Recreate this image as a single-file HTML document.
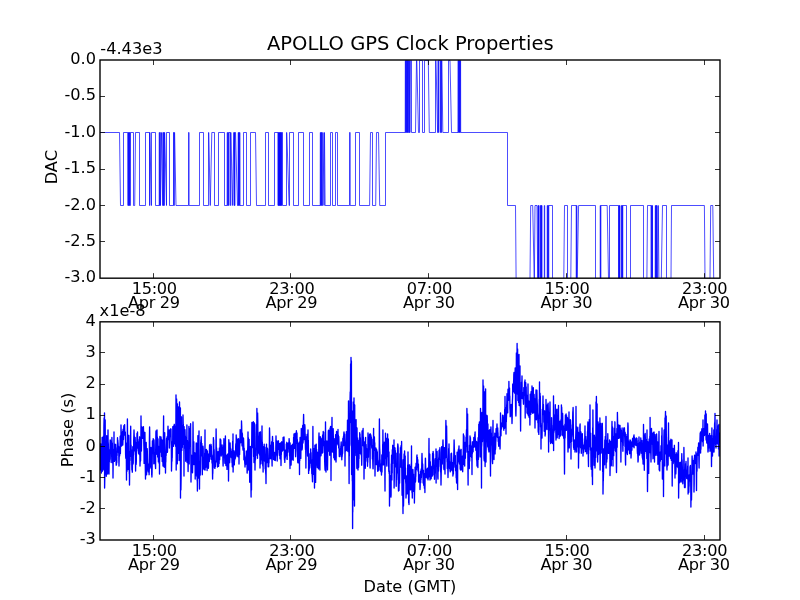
<!DOCTYPE html>
<html lang="en"><head><meta charset="utf-8"><title>APOLLO GPS Clock Properties</title>
<style>
html,body{margin:0;padding:0;background:#fff;width:800px;height:600px;overflow:hidden}
svg{display:block;will-change:transform}
text{font-family:"DejaVu Sans","Liberation Sans",sans-serif;fill:#000}
.t{font-size:16.20px}
.ti{font-size:19.55px}
.x1{letter-spacing:-0.3px}.x2{letter-spacing:-0.35px}
.ax{fill:none;stroke:#000;stroke-width:1.39;shape-rendering:auto}
.tk{stroke:#000;stroke-width:0.80;fill:none}
.l1{fill:none;stroke:#00f;stroke-width:0.7;stroke-linejoin:miter}
.l2{fill:none;stroke:#00f;stroke-width:1.35;stroke-linejoin:round}
</style></head><body>
<svg width="800" height="600" viewBox="0 0 800 600">
<rect x="0" y="0" width="800" height="600" fill="#fff"/>
<defs><clipPath id="c1"><rect x="100.00" y="60.00" width="620.00" height="218.18"/></clipPath>
<clipPath id="c2"><rect x="100.00" y="321.82" width="620.00" height="218.18"/></clipPath></defs>
<g clip-path="url(#c1)"><path class="l1" d="M100.0 132.5L119.5 132.5L120.5 205.5L123.5 205.5L123.5 132.5L127.8 132.5L127.9 205.5L128.2 205.5L128.2 132.5L128.5 132.5L128.6 205.5L128.9 205.5L128.9 132.5L129.3 132.5L129.3 205.5L129.6 205.5L129.7 132.5L130.0 132.5L130.0 205.5L130.3 205.5L130.4 132.5L133.5 132.5L133.5 205.5L134.7 205.5L135.5 132.5L139.5 132.5L139.5 205.5L145.5 205.5L145.5 132.5L149.5 132.5L149.5 205.5L149.8 205.5L149.8 132.5L149.9 132.5L151.3 205.5L151.5 205.5L151.5 132.5L155.5 132.5L155.5 205.5L159.2 205.5L159.2 132.5L159.6 132.5L159.6 205.5L160.0 205.5L160.0 132.5L160.3 132.5L160.3 205.5L160.5 205.5L161.5 132.5L161.6 132.5L162.7 205.5L162.9 205.5L162.9 132.5L163.3 132.5L163.3 205.5L163.7 205.5L163.7 132.5L164.1 132.5L164.1 205.5L164.3 205.5L164.5 132.5L164.7 132.5L166.5 205.5L166.5 205.5L166.5 132.5L169.5 132.5L169.5 205.5L173.5 205.5L173.5 132.5L174.0 132.5L174.0 205.5L174.3 205.5L174.3 132.5L174.6 132.5L176.0 205.5L188.5 205.5L188.5 132.5L189.1 132.5L189.1 205.5L199.5 205.5L199.5 132.5L203.5 132.5L203.5 205.5L208.5 205.5L208.5 132.5L208.8 132.5L210.2 205.5L210.3 205.5L211.8 132.5L214.5 132.5L214.5 205.5L218.5 205.5L218.5 132.5L224.5 132.5L224.5 205.5L227.1 205.5L227.2 132.5L227.6 132.5L227.6 205.5L228.0 205.5L228.1 132.5L228.4 132.5L228.5 205.5L228.9 205.5L228.9 132.5L230.2 132.5L230.2 205.5L230.6 205.5L230.6 132.5L231.0 132.5L232.3 205.5L232.4 205.5L233.8 132.5L234.0 132.5L234.0 205.5L234.3 205.5L234.3 132.5L234.6 132.5L234.6 205.5L234.9 205.5L234.9 132.5L235.5 132.5L237.5 205.5L238.1 205.5L238.2 132.5L238.5 132.5L238.5 205.5L238.8 205.5L238.9 132.5L239.2 132.5L239.3 205.5L239.6 205.5L239.6 132.5L239.9 132.5L240.0 205.5L243.5 205.5L243.5 132.5L246.5 132.5L246.5 205.5L250.5 205.5L250.5 132.5L255.5 132.5L256.5 205.5L265.5 205.5L265.5 132.5L268.5 132.5L268.5 205.5L274.5 205.5L274.5 132.5L278.0 132.5L278.0 205.5L278.3 205.5L278.3 132.5L278.6 132.5L278.6 205.5L278.9 205.5L278.9 132.5L279.1 132.5L279.2 205.5L279.4 205.5L279.5 132.5L279.7 132.5L279.8 205.5L280.0 205.5L280.0 132.5L280.3 132.5L280.3 205.5L280.6 205.5L280.6 132.5L280.9 132.5L280.9 205.5L281.1 205.5L281.2 132.5L281.4 132.5L281.5 205.5L281.7 205.5L281.8 132.5L282.5 132.5L282.5 205.5L286.5 205.5L286.5 132.5L286.8 132.5L289.1 205.5L289.5 205.5L289.5 132.5L293.5 132.5L293.5 205.5L298.5 205.5L298.5 132.5L303.5 132.5L303.5 205.5L309.5 205.5L309.5 132.5L312.5 132.5L312.5 205.5L320.2 205.5L320.3 132.5L320.6 132.5L320.6 205.5L320.9 205.5L321.0 132.5L321.3 132.5L321.4 205.5L321.7 205.5L321.7 132.5L322.0 132.5L322.1 205.5L322.6 205.5L322.9 132.5L323.0 132.5L324.0 205.5L324.1 205.5L324.4 132.5L324.5 132.5L325.1 205.5L330.5 205.5L330.5 132.5L332.5 132.5L332.5 205.5L335.5 205.5L335.5 132.5L337.5 132.5L337.5 205.5L349.5 205.5L349.5 132.5L350.2 132.5L350.2 205.5L355.5 205.5L355.5 132.5L359.5 132.5L359.5 205.5L369.6 205.5L370.5 132.5L372.5 132.5L372.5 205.5L375.7 205.5L376.5 132.5L378.5 132.5L379.7 205.5L385.5 205.5L385.5 132.5L405.2 132.5L405.3 60.5L405.6 60.5L405.6 132.5L406.0 132.5L406.0 60.5L406.3 60.5L406.4 132.5L406.7 132.5L406.8 60.5L407.1 60.5L407.2 132.5L407.5 132.5L407.5 60.5L407.9 60.5L407.9 132.5L408.2 132.5L408.3 60.5L408.6 60.5L408.7 132.5L409.5 132.5L409.5 60.5L409.3 60.5L409.8 132.5L410.0 132.5L410.5 60.5L411.5 60.5L411.5 132.5L415.5 132.5L416.5 60.5L416.8 60.5L418.5 132.5L419.5 132.5L419.5 60.5L422.5 60.5L422.5 132.5L424.5 132.5L424.5 60.5L428.3 60.5L429.3 132.5L435.5 132.5L435.5 60.5L436.0 60.5L437.6 132.5L438.0 132.5L438.0 60.5L438.4 60.5L438.4 132.5L438.8 132.5L438.8 60.5L440.3 60.5L440.3 132.5L440.7 132.5L440.7 60.5L441.1 60.5L441.1 132.5L441.5 132.5L441.5 60.5L441.9 60.5L442.8 132.5L448.5 132.5L448.5 60.5L450.0 60.5L451.5 132.5L458.0 132.5L458.1 60.5L458.4 60.5L458.4 132.5L458.8 132.5L458.8 60.5L459.1 60.5L459.2 132.5L459.5 132.5L459.6 60.5L459.9 60.5L459.9 132.5L460.2 132.5L460.3 60.5L460.6 60.5L460.7 132.5L507.5 132.5L507.5 205.5L515.5 205.5L516.1 278.5L530.0 278.5L530.7 205.5L532.7 205.5L534.2 278.5L534.4 278.5L535.0 205.5L537.0 205.5L537.7 278.5L538.0 278.5L538.0 205.5L538.4 205.5L538.4 278.5L538.7 278.5L538.7 205.5L538.9 205.5L538.9 278.5L540.2 278.5L540.2 205.5L540.6 205.5L540.6 278.5L541.0 278.5L541.0 205.5L541.4 205.5L541.4 278.5L541.7 278.5L541.7 205.5L541.9 205.5L541.9 278.5L544.3 278.5L544.3 205.5L544.7 205.5L544.7 278.5L547.2 278.5L547.2 205.5L547.6 205.5L547.6 278.5L548.0 278.5L548.0 205.5L548.4 205.5L548.4 278.5L548.8 278.5L548.8 205.5L552.5 205.5L552.5 278.5L563.8 278.5L564.5 205.5L567.5 205.5L567.5 278.5L570.8 278.5L571.5 205.5L576.2 205.5L576.2 278.5L576.6 278.5L576.6 205.5L576.9 205.5L576.9 278.5L577.2 278.5L578.6 205.5L595.5 205.5L595.5 278.5L600.2 278.5L600.2 205.5L600.5 205.5L600.5 278.5L600.9 278.5L600.9 205.5L607.2 205.5L608.5 278.5L609.5 278.5L609.5 205.5L618.5 205.5L618.5 278.5L618.9 278.5L618.9 205.5L619.3 205.5L619.3 278.5L619.6 278.5L619.6 205.5L619.8 205.5L619.8 278.5L621.3 278.5L621.3 205.5L621.7 205.5L621.7 278.5L622.1 278.5L622.1 205.5L622.5 205.5L622.5 278.5L622.8 278.5L622.8 205.5L626.5 205.5L626.5 278.5L630.5 278.5L630.5 205.5L643.5 205.5L643.5 278.5L646.9 278.5L647.5 205.5L651.0 205.5L651.1 278.5L651.4 278.5L651.5 205.5L651.8 205.5L651.9 278.5L652.3 278.5L652.3 205.5L652.5 205.5L652.5 278.5L655.2 278.5L655.3 205.5L655.6 205.5L655.6 278.5L655.9 278.5L656.0 205.5L656.3 205.5L656.4 278.5L656.7 278.5L656.7 205.5L657.0 205.5L657.1 278.5L657.6 278.5L658.2 205.5L658.3 205.5L658.9 278.5L661.3 278.5L662.5 205.5L666.5 205.5L666.5 278.5L671.0 278.5L671.5 205.5L704.4 205.5L705.0 278.5L710.0 278.5L710.7 205.5L712.8 205.5L713.7 278.5L720.0 278.5"/></g>
<g clip-path="url(#c2)"><path class="l2" d="M100.0 446.0L100.1 470.0L100.3 455.5L100.4 455.2L100.6 446.3L100.7 446.7L100.8 443.8L101.0 453.3L101.1 469.1L101.3 467.0L101.4 473.0L101.5 469.8L101.7 467.3L101.8 455.4L102.0 453.1L102.1 437.5L102.2 451.5L102.4 471.2L102.5 462.8L102.7 456.9L102.8 441.2L102.9 452.4L103.1 469.6L103.2 469.9L103.4 436.1L103.5 443.3L103.6 436.4L103.8 449.3L103.9 426.2L104.1 418.0L104.2 432.5L104.3 451.5L104.5 413.0L104.6 488.0L104.8 477.6L104.9 463.0L105.0 434.0L105.2 420.0L105.3 444.3L105.5 466.8L105.6 473.3L105.7 468.3L105.9 472.2L106.0 474.1L106.2 468.5L106.3 476.3L106.4 457.1L106.6 445.0L106.7 435.6L106.9 443.2L107.0 460.3L107.1 458.2L107.3 461.1L107.4 458.6L107.6 474.0L107.7 461.3L107.8 468.2L108.0 430.0L108.1 441.5L108.3 443.8L108.4 449.4L108.5 450.8L108.7 449.6L108.8 462.2L109.0 474.0L109.1 463.9L109.2 461.5L109.4 461.8L109.5 459.7L109.7 459.3L109.8 451.2L109.9 452.5L110.1 443.3L110.2 440.0L110.4 453.2L110.5 442.5L110.6 447.8L110.8 452.1L110.9 441.1L111.1 448.8L111.2 462.5L111.3 450.3L111.5 448.6L111.6 448.3L111.8 446.3L111.9 437.5L112.0 442.8L112.2 442.9L112.3 442.9L112.5 456.0L112.6 453.9L112.7 463.2L112.9 461.0L113.0 478.0L113.2 459.2L113.3 453.9L113.4 461.3L113.6 457.2L113.7 449.1L113.9 457.1L114.0 432.0L114.1 451.9L114.3 453.5L114.4 461.4L114.6 454.9L114.7 460.4L114.8 459.5L115.0 450.1L115.1 444.2L115.3 447.6L115.4 444.5L115.5 447.2L115.7 448.0L115.8 452.3L116.0 456.5L116.1 461.8L116.2 465.3L116.4 460.4L116.5 464.6L116.7 459.1L116.8 462.4L116.9 455.6L117.1 455.6L117.2 444.2L117.4 449.8L117.5 437.7L117.6 440.5L117.8 440.1L117.9 441.8L118.1 443.7L118.2 451.3L118.3 452.3L118.5 446.1L118.6 448.1L118.8 454.2L118.9 462.3L119.0 466.0L119.2 456.4L119.3 454.3L119.5 451.8L119.6 455.9L119.7 454.8L119.9 446.6L120.0 449.4L120.2 436.2L120.3 441.3L120.4 453.5L120.6 441.0L120.7 442.7L120.9 442.5L121.0 425.0L121.1 429.8L121.3 433.5L121.4 443.2L121.6 446.1L121.7 437.9L121.8 432.2L122.0 439.5L122.1 443.8L122.3 439.7L122.4 445.0L122.5 436.1L122.7 431.2L122.8 445.1L123.0 438.9L123.1 429.3L123.2 432.0L123.4 437.6L123.5 439.5L123.7 430.5L123.8 426.6L123.9 425.6L124.1 432.6L124.2 433.0L124.4 430.9L124.5 432.3L124.6 424.6L124.8 433.4L124.9 435.3L125.1 432.5L125.2 432.0L125.3 432.1L125.5 440.1L125.6 454.3L125.8 458.2L125.9 445.1L126.0 442.9L126.2 456.7L126.3 451.7L126.5 480.0L126.6 457.6L126.7 465.6L126.9 471.5L127.0 468.2L127.2 450.4L127.3 440.1L127.4 419.0L127.6 445.0L127.7 453.1L127.9 462.0L128.0 469.6L128.1 461.4L128.3 443.2L128.4 445.9L128.6 451.9L128.7 439.8L128.8 435.3L129.0 454.9L129.1 461.5L129.3 473.8L129.4 470.5L129.5 485.0L129.7 465.1L129.8 465.1L130.0 453.0L130.1 460.6L130.2 451.3L130.4 456.5L130.5 439.3L130.7 426.2L130.8 443.7L130.9 448.9L131.1 445.2L131.2 452.4L131.4 453.9L131.5 449.8L131.6 449.8L131.8 464.8L131.9 469.9L132.1 466.7L132.2 467.7L132.3 472.2L132.5 461.4L132.6 461.2L132.8 446.8L132.9 451.8L133.0 460.5L133.2 463.9L133.3 455.7L133.5 454.3L133.6 451.4L133.7 439.8L133.9 433.9L134.0 430.0L134.2 435.0L134.3 441.7L134.4 450.8L134.6 444.9L134.7 448.6L134.9 449.3L135.0 447.9L135.1 437.3L135.3 441.6L135.4 455.2L135.6 471.0L135.7 458.5L135.8 448.2L136.0 442.9L136.1 464.4L136.3 461.9L136.4 453.5L136.5 443.8L136.7 451.0L136.8 445.9L137.0 433.4L137.1 446.4L137.2 438.3L137.4 434.9L137.5 432.0L137.7 443.9L137.8 448.0L137.9 439.4L138.1 446.3L138.2 441.8L138.4 445.5L138.5 453.2L138.6 451.7L138.8 448.9L138.9 449.6L139.1 449.9L139.2 454.5L139.3 442.3L139.5 441.0L139.6 436.8L139.8 448.5L139.9 456.1L140.0 466.0L140.2 459.9L140.3 461.7L140.5 459.2L140.6 460.8L140.7 448.9L140.9 442.9L141.0 416.0L141.2 443.1L141.3 435.0L141.4 451.0L141.6 439.2L141.7 437.0L141.9 426.9L142.0 429.8L142.1 435.3L142.3 431.9L142.4 438.4L142.6 431.2L142.7 428.2L142.8 437.2L143.0 436.3L143.1 435.6L143.3 430.4L143.4 426.6L143.5 429.6L143.7 434.3L143.8 443.8L144.0 450.2L144.1 463.4L144.2 456.6L144.4 459.7L144.5 458.7L144.7 440.9L144.8 435.2L144.9 432.3L145.1 444.1L145.2 460.6L145.4 473.1L145.5 479.0L145.6 471.2L145.8 457.2L145.9 452.6L146.1 442.9L146.2 442.4L146.3 449.6L146.5 465.9L146.6 474.8L146.8 458.4L146.9 449.4L147.0 449.8L147.2 448.7L147.3 451.0L147.5 459.0L147.6 462.3L147.7 465.5L147.9 466.6L148.0 470.2L148.2 471.2L148.3 471.9L148.4 471.5L148.6 468.2L148.7 463.9L148.9 466.7L149.0 470.2L149.1 474.7L149.3 469.7L149.4 440.4L149.6 427.0L149.7 431.9L149.8 446.9L150.0 464.0L150.1 468.0L150.3 448.1L150.4 456.9L150.5 466.1L150.7 461.5L150.8 451.7L151.0 447.4L151.1 455.7L151.2 456.7L151.4 456.2L151.5 462.8L151.7 475.0L151.8 471.4L151.9 477.0L152.1 472.1L152.2 461.0L152.4 440.9L152.5 441.7L152.6 448.6L152.8 453.7L152.9 453.5L153.1 449.9L153.2 438.6L153.3 444.9L153.5 449.5L153.6 441.6L153.8 463.8L153.9 447.9L154.0 439.9L154.2 444.8L154.3 453.4L154.5 461.4L154.6 463.0L154.7 454.7L154.9 456.5L155.0 453.1L155.2 459.0L155.3 464.2L155.4 465.3L155.6 468.5L155.7 449.4L155.9 433.0L156.0 431.0L156.1 441.8L156.3 437.7L156.4 454.3L156.6 446.3L156.7 434.3L156.8 439.8L157.0 429.9L157.1 436.8L157.3 437.0L157.4 438.5L157.5 446.8L157.7 457.0L157.8 438.7L158.0 438.9L158.1 449.3L158.2 450.0L158.4 461.9L158.5 446.2L158.7 452.7L158.8 455.8L158.9 455.9L159.1 451.4L159.2 463.8L159.4 451.9L159.5 474.0L159.6 461.2L159.8 442.8L159.9 436.4L160.1 439.5L160.2 444.2L160.3 442.3L160.5 452.0L160.6 451.4L160.8 439.9L160.9 443.4L161.0 437.0L161.2 439.3L161.3 443.3L161.5 456.6L161.6 449.7L161.7 439.9L161.9 448.3L162.0 439.8L162.2 461.6L162.3 454.9L162.4 449.5L162.6 455.7L162.7 453.5L162.9 460.1L163.0 466.0L163.1 443.2L163.3 448.4L163.4 435.5L163.6 416.0L163.7 444.5L163.8 452.6L164.0 452.7L164.1 466.8L164.3 467.2L164.4 458.7L164.5 439.5L164.7 432.7L164.8 442.4L165.0 449.0L165.1 457.3L165.2 453.7L165.4 461.1L165.5 473.0L165.7 457.7L165.8 461.9L165.9 455.8L166.1 455.6L166.2 453.5L166.4 451.1L166.5 439.6L166.6 438.2L166.8 438.6L166.9 444.3L167.1 436.8L167.2 452.3L167.3 452.3L167.5 451.3L167.6 446.0L167.8 433.0L167.9 429.7L168.0 426.2L168.2 439.7L168.3 434.6L168.5 435.6L168.6 435.7L168.7 436.5L168.9 437.2L169.0 434.5L169.2 430.0L169.3 431.8L169.4 448.0L169.6 437.1L169.7 432.4L169.9 432.8L170.0 430.0L170.1 436.3L170.3 436.5L170.4 433.7L170.6 428.9L170.7 434.8L170.8 428.9L171.0 429.1L171.1 439.2L171.3 445.9L171.4 455.3L171.5 471.0L171.7 462.5L171.8 447.5L172.0 461.3L172.1 455.3L172.2 457.8L172.4 441.7L172.5 446.1L172.7 442.7L172.8 426.6L172.9 429.3L173.1 431.4L173.2 427.3L173.4 443.4L173.5 446.3L173.6 431.3L173.8 425.7L173.9 425.9L174.1 429.5L174.2 432.5L174.3 424.3L174.5 435.5L174.6 443.9L174.8 430.9L174.9 426.2L175.0 443.8L175.2 438.5L175.3 431.2L175.5 435.2L175.6 446.3L175.7 428.4L175.9 423.5L176.0 395.0L176.2 470.0L176.3 441.2L176.4 450.8L176.6 399.0L176.7 411.4L176.9 452.5L177.0 450.8L177.1 434.7L177.3 463.8L177.4 404.0L177.6 433.0L177.7 429.9L177.8 430.9L178.0 438.5L178.1 418.3L178.3 453.4L178.4 417.4L178.5 407.0L178.7 433.5L178.8 443.6L179.0 438.7L179.1 460.6L179.2 432.8L179.4 424.2L179.5 402.0L179.7 416.3L179.8 410.1L179.9 415.8L180.1 417.0L180.2 428.4L180.4 408.0L180.5 498.0L180.6 464.2L180.8 472.6L180.9 490.0L181.1 478.1L181.2 455.5L181.3 428.5L181.5 416.8L181.6 440.6L181.8 450.6L181.9 447.8L182.0 446.8L182.2 444.7L182.3 447.6L182.5 425.4L182.6 436.3L182.7 441.5L182.9 444.4L183.0 415.0L183.2 424.2L183.3 425.0L183.4 437.5L183.6 426.9L183.7 439.1L183.9 436.1L184.0 476.0L184.1 426.6L184.3 438.9L184.4 443.6L184.6 444.9L184.7 448.2L184.8 439.4L185.0 429.7L185.1 434.1L185.3 441.7L185.4 436.2L185.5 443.1L185.7 461.2L185.8 448.9L186.0 446.4L186.1 438.8L186.2 437.9L186.4 447.1L186.5 451.6L186.7 455.0L186.8 446.3L186.9 425.0L187.1 462.6L187.2 452.7L187.4 440.5L187.5 443.7L187.6 446.0L187.8 446.7L187.9 457.8L188.1 471.6L188.2 465.5L188.3 454.5L188.5 443.0L188.6 443.3L188.8 445.3L188.9 426.5L189.0 445.0L189.2 463.9L189.3 448.5L189.5 443.9L189.6 429.0L189.7 435.4L189.9 432.8L190.0 442.5L190.2 437.3L190.3 432.8L190.4 434.6L190.6 423.7L190.7 440.1L190.9 463.4L191.0 482.0L191.1 472.9L191.3 457.7L191.4 457.4L191.6 457.9L191.7 462.5L191.8 455.3L192.0 465.7L192.1 466.0L192.3 468.9L192.4 470.0L192.5 472.8L192.7 465.5L192.8 460.7L193.0 422.0L193.1 428.6L193.2 443.2L193.4 455.5L193.5 464.5L193.7 446.1L193.8 441.7L193.9 458.1L194.1 456.1L194.2 457.8L194.4 454.2L194.5 462.7L194.6 464.6L194.8 461.7L194.9 452.8L195.1 464.8L195.2 479.0L195.3 471.4L195.5 461.3L195.6 471.9L195.8 475.1L195.9 466.0L196.0 468.8L196.2 442.9L196.3 446.8L196.5 443.1L196.6 460.1L196.7 457.8L196.9 476.8L197.0 465.3L197.2 481.0L197.3 478.3L197.4 491.0L197.6 463.6L197.7 456.7L197.9 435.6L198.0 452.0L198.1 457.5L198.3 474.1L198.4 464.4L198.6 478.1L198.7 460.4L198.8 448.3L199.0 431.0L199.1 465.9L199.3 467.0L199.4 479.9L199.5 489.0L199.7 461.1L199.8 471.9L200.0 465.3L200.1 467.6L200.2 475.1L200.4 469.8L200.5 458.0L200.7 442.2L200.8 443.8L200.9 439.9L201.1 441.1L201.2 436.6L201.4 445.3L201.5 443.9L201.6 455.7L201.8 443.3L201.9 447.4L202.1 451.5L202.2 464.1L202.3 474.7L202.5 462.5L202.6 450.3L202.8 454.1L202.9 453.5L203.0 446.2L203.2 448.6L203.3 460.0L203.5 468.8L203.6 461.7L203.7 465.8L203.9 468.4L204.0 458.2L204.2 466.3L204.3 469.7L204.4 458.5L204.6 459.4L204.7 453.1L204.9 456.3L205.0 430.0L205.1 470.0L205.3 458.8L205.4 463.6L205.6 458.8L205.7 459.7L205.8 467.3L206.0 464.8L206.1 463.9L206.3 450.6L206.4 449.4L206.5 450.4L206.7 453.4L206.8 458.1L207.0 464.0L207.1 470.6L207.2 463.0L207.4 450.9L207.5 458.2L207.7 467.1L207.8 464.1L207.9 460.4L208.1 453.8L208.2 463.0L208.4 468.3L208.5 466.5L208.6 461.1L208.8 458.6L208.9 456.9L209.1 459.9L209.2 457.4L209.3 461.5L209.5 448.1L209.6 444.8L209.8 457.6L209.9 456.4L210.0 459.2L210.2 452.8L210.3 455.0L210.5 456.4L210.6 447.6L210.7 448.7L210.9 448.3L211.0 444.3L211.2 448.2L211.3 445.9L211.4 454.2L211.6 455.7L211.7 459.7L211.9 459.4L212.0 462.3L212.1 463.1L212.3 456.4L212.4 465.7L212.6 479.0L212.7 471.5L212.8 473.6L213.0 459.1L213.1 455.9L213.3 449.3L213.4 437.6L213.5 441.7L213.7 440.0L213.8 447.9L214.0 456.2L214.1 449.5L214.2 451.2L214.4 467.7L214.5 465.3L214.7 461.5L214.8 461.7L214.9 468.4L215.1 465.8L215.2 465.4L215.4 466.4L215.5 462.2L215.6 461.0L215.8 462.0L215.9 455.9L216.1 429.0L216.2 436.4L216.3 448.0L216.5 451.8L216.6 448.0L216.8 455.1L216.9 458.9L217.0 451.5L217.2 463.1L217.3 462.8L217.5 467.0L217.6 457.2L217.7 461.2L217.9 457.2L218.0 462.6L218.2 451.6L218.3 458.3L218.4 463.1L218.6 466.3L218.7 455.2L218.9 460.5L219.0 459.0L219.1 463.6L219.3 450.6L219.4 448.0L219.6 456.1L219.7 459.7L219.8 455.7L220.0 445.9L220.1 438.9L220.3 442.8L220.4 443.8L220.5 439.1L220.7 443.6L220.8 439.9L221.0 453.5L221.1 448.6L221.2 456.1L221.4 450.3L221.5 455.3L221.7 451.0L221.8 452.1L221.9 453.3L222.1 445.0L222.2 450.6L222.4 450.2L222.5 452.6L222.6 447.3L222.8 448.8L222.9 459.4L223.1 466.0L223.2 463.1L223.3 457.7L223.5 450.2L223.6 445.8L223.8 445.9L223.9 438.7L224.0 452.5L224.2 454.7L224.3 449.6L224.5 450.7L224.6 453.0L224.7 458.2L224.9 463.3L225.0 460.1L225.2 448.7L225.3 443.0L225.4 436.0L225.6 457.0L225.7 458.3L225.9 465.6L226.0 463.1L226.1 462.1L226.3 456.0L226.4 464.3L226.6 463.3L226.7 457.7L226.8 455.3L227.0 469.4L227.1 465.5L227.3 459.6L227.4 454.4L227.5 459.5L227.7 456.9L227.8 454.3L228.0 455.1L228.1 453.8L228.2 465.2L228.4 462.0L228.5 481.0L228.7 464.5L228.8 439.7L228.9 441.3L229.1 458.9L229.2 452.2L229.4 449.3L229.5 462.2L229.6 462.7L229.8 459.2L229.9 455.9L230.1 442.9L230.2 446.8L230.3 448.4L230.5 455.6L230.6 452.8L230.8 448.8L230.9 457.1L231.0 456.0L231.2 451.9L231.3 454.9L231.5 451.7L231.6 451.4L231.7 457.9L231.9 454.7L232.0 462.6L232.2 463.1L232.3 466.8L232.4 456.6L232.6 442.7L232.7 441.2L232.9 461.2L233.0 434.0L233.1 472.0L233.3 462.6L233.4 461.8L233.6 455.9L233.7 460.2L233.8 462.8L234.0 464.1L234.1 450.8L234.3 464.9L234.4 460.6L234.5 461.2L234.7 452.2L234.8 456.9L235.0 456.3L235.1 454.3L235.2 458.8L235.4 457.1L235.5 457.6L235.7 446.3L235.8 443.8L235.9 447.2L236.1 446.0L236.2 434.9L236.4 448.4L236.5 438.3L236.6 438.0L236.8 446.9L236.9 454.1L237.1 456.1L237.2 445.1L237.3 444.8L237.5 439.5L237.6 453.9L237.8 453.5L237.9 442.9L238.0 453.4L238.2 456.9L238.3 447.7L238.5 438.6L238.6 449.6L238.7 446.0L238.9 442.8L239.0 464.0L239.2 448.9L239.3 448.2L239.4 441.4L239.6 454.5L239.7 446.2L239.9 439.8L240.0 438.9L240.1 429.7L240.3 431.0L240.4 442.1L240.6 441.3L240.7 442.7L240.8 442.0L241.0 435.9L241.1 433.1L241.3 433.5L241.4 433.9L241.5 421.0L241.7 426.1L241.8 434.4L242.0 444.9L242.1 445.9L242.2 432.9L242.4 434.3L242.5 440.1L242.7 443.8L242.8 444.0L242.9 449.0L243.1 450.1L243.2 439.9L243.4 438.2L243.5 438.0L243.6 440.4L243.8 446.4L243.9 459.6L244.1 460.0L244.2 448.2L244.3 453.3L244.5 458.1L244.6 459.1L244.8 464.0L244.9 463.9L245.0 467.0L245.2 462.1L245.3 462.6L245.5 464.7L245.6 462.5L245.7 457.8L245.9 457.9L246.0 455.9L246.2 455.2L246.3 451.0L246.4 454.8L246.6 461.1L246.7 464.2L246.9 463.1L247.0 458.5L247.1 473.1L247.3 470.7L247.4 461.2L247.6 463.1L247.7 449.5L247.8 446.4L248.0 432.0L248.1 447.7L248.3 437.6L248.4 439.8L248.5 466.5L248.7 470.0L248.8 459.8L249.0 459.9L249.1 439.3L249.2 451.6L249.4 456.2L249.5 464.6L249.7 482.2L249.8 467.1L249.9 452.5L250.1 460.3L250.2 468.7L250.4 446.4L250.5 454.2L250.6 448.3L250.8 454.6L250.9 483.2L251.1 497.0L251.2 470.7L251.3 484.9L251.5 490.0L251.6 455.5L251.8 432.7L251.9 422.4L252.0 423.0L252.2 431.7L252.3 432.1L252.5 447.6L252.6 442.5L252.7 437.4L252.9 445.7L253.0 422.3L253.2 426.6L253.3 421.6L253.4 439.1L253.6 456.6L253.7 450.8L253.9 451.4L254.0 462.6L254.1 441.7L254.3 433.1L254.4 423.0L254.6 425.3L254.7 451.0L254.8 453.2L255.0 470.0L255.1 463.5L255.3 451.1L255.4 459.9L255.5 459.0L255.7 449.2L255.8 448.1L256.0 455.5L256.1 448.0L256.2 435.0L256.4 424.5L256.5 435.7L256.7 424.8L256.8 426.8L256.9 408.5L257.1 433.0L257.2 449.0L257.4 441.0L257.5 458.2L257.6 413.0L257.8 421.1L257.9 432.4L258.1 433.7L258.2 440.6L258.3 449.2L258.5 442.5L258.6 453.1L258.8 436.3L258.9 437.8L259.0 437.0L259.2 444.9L259.3 446.8L259.5 454.9L259.6 432.5L259.7 445.4L259.9 444.8L260.0 468.0L260.2 451.8L260.3 449.2L260.4 431.8L260.6 447.6L260.7 445.1L260.9 458.9L261.0 463.8L261.1 451.4L261.3 458.3L261.4 456.9L261.6 459.9L261.7 442.4L261.8 447.1L262.0 426.0L262.1 441.7L262.3 441.9L262.4 448.0L262.5 457.0L262.7 463.7L262.8 465.9L263.0 458.6L263.1 472.0L263.2 460.4L263.4 451.8L263.5 449.1L263.7 446.5L263.8 450.4L263.9 448.1L264.1 447.1L264.2 444.1L264.4 455.5L264.5 459.6L264.6 461.1L264.8 447.1L264.9 449.8L265.1 460.9L265.2 468.8L265.3 458.4L265.5 470.0L265.6 470.7L265.8 474.0L265.9 474.8L266.0 483.5L266.2 461.6L266.3 456.6L266.5 444.1L266.6 453.7L266.7 462.8L266.9 448.5L267.0 460.6L267.2 448.3L267.3 456.3L267.4 448.1L267.6 454.7L267.7 460.6L267.9 459.5L268.0 458.5L268.1 466.8L268.3 460.6L268.4 459.8L268.6 460.6L268.7 466.7L268.8 461.7L269.0 463.1L269.1 449.0L269.3 448.4L269.4 440.4L269.5 428.0L269.7 433.4L269.8 444.3L270.0 447.5L270.1 458.5L270.2 455.5L270.4 446.9L270.5 451.0L270.7 445.7L270.8 457.8L270.9 455.3L271.1 458.7L271.2 445.0L271.4 450.6L271.5 450.5L271.6 441.9L271.8 459.0L271.9 457.7L272.1 466.0L272.2 456.6L272.3 442.9L272.5 436.4L272.6 438.4L272.8 446.1L272.9 449.5L273.0 442.8L273.2 450.0L273.3 442.4L273.5 448.0L273.6 459.6L273.7 454.0L273.9 455.8L274.0 452.0L274.2 458.2L274.3 457.5L274.4 452.5L274.6 452.7L274.7 460.2L274.9 459.0L275.0 452.6L275.1 459.9L275.3 460.5L275.4 456.6L275.6 455.0L275.7 454.7L275.8 448.6L276.0 436.0L276.1 441.5L276.3 449.3L276.4 451.0L276.5 442.8L276.7 441.0L276.8 447.3L277.0 455.6L277.1 457.2L277.2 461.1L277.4 451.1L277.5 453.3L277.7 443.3L277.8 449.5L277.9 443.8L278.1 441.2L278.2 440.8L278.4 440.9L278.5 441.8L278.6 443.2L278.8 445.9L278.9 445.1L279.1 450.1L279.2 449.8L279.3 455.2L279.5 448.8L279.6 451.8L279.8 447.1L279.9 443.4L280.0 458.8L280.2 446.9L280.3 443.4L280.5 442.9L280.6 452.0L280.7 450.3L280.9 451.2L281.0 465.5L281.2 450.8L281.3 454.7L281.4 452.0L281.6 446.0L281.7 441.8L281.9 445.8L282.0 444.2L282.1 445.8L282.3 449.4L282.4 451.1L282.6 444.2L282.7 441.6L282.8 441.9L283.0 442.2L283.1 437.5L283.3 442.9L283.4 448.9L283.5 450.1L283.7 446.7L283.8 442.0L284.0 437.0L284.1 440.1L284.2 445.1L284.4 458.0L284.5 459.9L284.7 456.4L284.8 462.4L284.9 459.1L285.1 458.0L285.2 458.2L285.4 455.6L285.5 450.1L285.6 453.3L285.8 452.4L285.9 455.9L286.1 452.5L286.2 455.3L286.3 443.9L286.5 450.6L286.6 445.6L286.8 442.3L286.9 447.6L287.0 459.3L287.2 459.4L287.3 450.4L287.5 444.6L287.6 449.3L287.7 451.3L287.9 452.0L288.0 445.5L288.2 443.1L288.3 444.7L288.4 447.3L288.6 448.6L288.7 446.7L288.9 442.2L289.0 443.4L289.1 438.6L289.3 441.2L289.4 450.3L289.6 455.9L289.7 451.1L289.8 457.3L290.0 468.5L290.1 443.0L290.3 458.8L290.4 449.8L290.5 463.5L290.7 462.5L290.8 464.6L291.0 462.5L291.1 465.0L291.2 459.9L291.4 453.2L291.5 445.4L291.7 452.6L291.8 459.8L291.9 452.8L292.1 449.3L292.2 454.4L292.4 449.1L292.5 444.3L292.6 448.7L292.8 456.4L292.9 453.0L293.1 456.5L293.2 460.2L293.3 449.5L293.5 447.5L293.6 437.4L293.8 436.9L293.9 436.0L294.0 434.0L294.2 440.2L294.3 448.4L294.5 445.7L294.6 439.4L294.7 441.0L294.9 441.3L295.0 433.4L295.2 440.1L295.3 444.9L295.4 450.1L295.6 456.7L295.7 453.3L295.9 449.7L296.0 437.7L296.1 432.8L296.3 435.7L296.4 430.7L296.6 440.5L296.7 443.4L296.8 438.8L297.0 432.9L297.1 440.2L297.3 439.4L297.4 443.2L297.5 454.0L297.7 461.3L297.8 462.5L298.0 462.7L298.1 443.6L298.2 457.9L298.4 453.2L298.5 457.4L298.7 462.8L298.8 453.7L298.9 448.9L299.1 442.1L299.2 449.9L299.4 450.4L299.5 474.5L299.6 449.6L299.8 460.8L299.9 455.1L300.1 437.5L300.2 445.0L300.3 445.4L300.5 449.1L300.6 452.5L300.8 458.4L300.9 451.5L301.0 437.5L301.2 438.4L301.3 428.4L301.5 448.3L301.6 440.6L301.7 446.1L301.9 449.8L302.0 450.0L302.2 448.7L302.3 447.6L302.4 442.2L302.6 437.0L302.7 425.5L302.9 429.1L303.0 443.0L303.1 440.9L303.3 439.5L303.4 422.6L303.6 414.5L303.7 419.6L303.8 439.4L304.0 431.7L304.1 428.7L304.3 426.9L304.4 427.2L304.5 431.9L304.7 437.5L304.8 424.7L305.0 427.5L305.1 441.2L305.2 433.7L305.4 445.2L305.5 449.6L305.7 449.2L305.8 454.6L305.9 468.0L306.1 447.6L306.2 444.0L306.4 437.1L306.5 436.7L306.6 442.2L306.8 443.8L306.9 438.3L307.1 434.5L307.2 438.5L307.3 443.4L307.5 451.1L307.6 456.0L307.8 450.0L307.9 437.9L308.0 430.0L308.2 444.0L308.3 440.1L308.5 453.6L308.6 473.4L308.7 466.2L308.9 460.7L309.0 470.7L309.2 469.1L309.3 461.0L309.4 462.5L309.6 460.9L309.7 468.0L309.9 465.4L310.0 453.8L310.1 460.3L310.3 463.0L310.4 456.4L310.6 455.1L310.7 448.9L310.8 452.3L311.0 453.7L311.1 452.6L311.3 463.1L311.4 461.6L311.5 460.0L311.7 470.0L311.8 473.7L312.0 473.5L312.1 471.9L312.2 475.8L312.4 478.7L312.5 481.8L312.7 463.7L312.8 448.4L312.9 426.5L313.1 458.2L313.2 469.4L313.4 474.3L313.5 457.1L313.6 456.0L313.8 454.2L313.9 448.6L314.1 454.3L314.2 462.5L314.3 463.4L314.5 488.0L314.6 474.1L314.8 453.8L314.9 445.3L315.0 445.1L315.2 453.9L315.3 464.4L315.5 472.9L315.6 482.4L315.7 471.0L315.9 460.6L316.0 452.9L316.2 444.1L316.3 451.6L316.4 452.5L316.6 449.3L316.7 460.5L316.9 461.8L317.0 456.8L317.1 464.2L317.3 467.5L317.4 452.2L317.6 454.7L317.7 459.5L317.8 458.0L318.0 458.7L318.1 465.8L318.3 467.4L318.4 463.3L318.5 468.9L318.7 457.5L318.8 438.2L319.0 433.0L319.1 437.8L319.2 447.1L319.4 444.8L319.5 446.2L319.7 458.5L319.8 452.2L319.9 470.0L320.1 449.7L320.2 436.6L320.4 438.9L320.5 436.9L320.6 447.8L320.8 455.2L320.9 454.1L321.1 455.7L321.2 447.4L321.3 453.5L321.5 452.4L321.6 445.6L321.8 449.4L321.9 438.4L322.0 447.1L322.2 442.0L322.3 444.3L322.5 453.0L322.6 435.0L322.7 435.5L322.9 439.8L323.0 445.7L323.2 431.4L323.3 440.5L323.4 438.5L323.6 439.7L323.7 432.1L323.9 443.3L324.0 441.2L324.1 446.6L324.3 452.5L324.4 441.1L324.6 458.4L324.7 461.6L324.8 464.9L325.0 469.2L325.1 470.3L325.3 457.0L325.4 445.7L325.5 422.0L325.7 454.5L325.8 450.8L326.0 472.0L326.1 449.0L326.2 454.0L326.4 449.9L326.5 447.3L326.7 448.3L326.8 442.6L326.9 441.0L327.1 455.6L327.2 455.0L327.4 466.4L327.5 469.9L327.6 463.8L327.8 443.9L327.9 449.4L328.1 442.0L328.2 445.6L328.3 431.8L328.5 430.1L328.6 430.6L328.8 430.6L328.9 447.5L329.0 451.3L329.2 445.8L329.3 450.5L329.5 445.7L329.6 437.3L329.7 455.2L329.9 437.0L330.0 428.9L330.2 428.0L330.3 441.8L330.4 428.7L330.6 426.4L330.7 436.6L330.9 437.3L331.0 480.5L331.1 461.2L331.3 438.8L331.4 432.3L331.6 442.8L331.7 436.5L331.8 430.0L332.0 417.5L332.1 436.5L332.3 430.4L332.4 452.0L332.5 450.0L332.7 451.8L332.8 436.8L333.0 430.1L333.1 432.0L333.2 428.7L333.4 442.6L333.5 448.9L333.7 450.6L333.8 457.7L333.9 453.3L334.1 438.6L334.2 444.3L334.4 447.7L334.5 447.5L334.6 459.8L334.8 459.5L334.9 459.8L335.1 447.2L335.2 454.9L335.3 457.3L335.5 438.9L335.6 434.7L335.8 450.4L335.9 450.5L336.0 462.0L336.2 457.2L336.3 437.0L336.5 432.6L336.6 431.4L336.7 440.0L336.9 443.9L337.0 436.3L337.2 438.6L337.3 441.4L337.4 435.3L337.6 436.7L337.7 439.9L337.9 437.0L338.0 429.5L338.1 445.0L338.3 434.9L338.4 437.9L338.6 443.6L338.7 447.9L338.8 436.4L339.0 444.1L339.1 446.4L339.3 456.5L339.4 456.3L339.5 453.3L339.7 453.9L339.8 455.5L340.0 456.5L340.1 453.9L340.2 452.0L340.4 452.9L340.5 448.7L340.7 454.5L340.8 446.2L340.9 446.7L341.1 443.4L341.2 442.0L341.4 447.7L341.5 451.5L341.6 453.7L341.8 459.8L341.9 454.1L342.1 456.6L342.2 455.4L342.3 454.2L342.5 453.7L342.6 452.8L342.8 441.0L342.9 438.2L343.0 445.5L343.2 445.3L343.3 445.8L343.5 436.2L343.6 437.6L343.7 435.7L343.9 432.8L344.0 432.0L344.2 433.6L344.3 442.2L344.4 445.2L344.6 434.1L344.7 439.2L344.9 444.4L345.0 466.0L345.1 452.7L345.3 449.1L345.4 444.9L345.6 450.9L345.7 444.3L345.8 447.1L346.0 450.8L346.1 444.9L346.3 436.6L346.4 431.6L346.5 440.2L346.7 432.9L346.8 438.0L347.0 450.2L347.1 448.3L347.2 436.7L347.4 429.6L347.5 420.1L347.7 429.9L347.8 434.7L347.9 451.5L348.1 441.5L348.2 449.3L348.4 426.7L348.5 401.0L348.6 416.5L348.8 435.1L348.9 448.2L349.1 483.5L349.2 456.4L349.3 456.1L349.5 438.5L349.6 446.0L349.8 444.4L349.9 421.6L350.0 402.0L350.2 392.0L350.3 402.3L350.5 387.6L350.6 364.0L350.7 385.9L350.9 413.3L351.0 357.5L351.2 422.7L351.3 418.3L351.4 361.0L351.6 474.5L351.7 430.6L351.9 418.7L352.0 410.8L352.1 435.6L352.3 481.0L352.4 466.7L352.6 528.5L352.7 492.6L352.8 512.0L353.0 410.9L353.1 465.5L353.3 402.0L353.4 411.2L353.5 422.6L353.7 411.1L353.8 413.3L354.0 398.0L354.1 500.0L354.2 457.3L354.4 454.4L354.5 506.0L354.7 405.0L354.8 420.9L354.9 452.0L355.1 434.4L355.2 455.6L355.4 441.9L355.5 427.7L355.6 428.5L355.8 427.2L355.9 428.9L356.1 419.6L356.2 437.3L356.3 437.5L356.5 451.4L356.6 451.8L356.8 467.5L356.9 468.5L357.0 428.0L357.2 443.6L357.3 451.8L357.5 439.2L357.6 437.8L357.7 447.2L357.9 458.3L358.0 470.0L358.2 440.2L358.3 458.8L358.4 466.6L358.6 467.3L358.7 461.7L358.9 450.4L359.0 458.8L359.1 448.6L359.3 443.4L359.4 453.4L359.6 440.3L359.7 432.7L359.8 435.1L360.0 434.1L360.1 444.2L360.3 437.6L360.4 440.5L360.5 449.1L360.7 453.4L360.8 453.6L361.0 454.3L361.1 450.5L361.2 451.1L361.4 455.4L361.5 453.2L361.7 465.2L361.8 460.2L361.9 440.9L362.1 430.9L362.2 436.7L362.4 433.4L362.5 432.9L362.6 438.8L362.8 436.3L362.9 431.3L363.1 428.5L363.2 445.7L363.3 436.9L363.5 439.1L363.6 445.4L363.8 446.2L363.9 448.6L364.0 479.0L364.2 460.1L364.3 447.9L364.5 444.6L364.6 454.2L364.7 449.5L364.9 441.6L365.0 450.8L365.2 465.0L365.3 468.3L365.4 455.3L365.6 437.5L365.7 461.2L365.9 453.6L366.0 453.4L366.1 444.5L366.3 450.3L366.4 451.9L366.6 449.8L366.7 450.4L366.8 448.6L367.0 456.9L367.1 457.4L367.3 452.0L367.4 461.8L367.5 466.2L367.7 452.2L367.8 462.3L368.0 433.0L368.1 448.1L368.2 448.4L368.4 457.2L368.5 446.9L368.7 441.5L368.8 442.4L368.9 437.1L369.1 438.9L369.2 440.1L369.4 438.1L369.5 434.4L369.6 436.7L369.8 446.0L369.9 456.5L370.1 468.0L370.2 451.5L370.3 433.8L370.5 438.5L370.6 438.3L370.8 440.0L370.9 434.8L371.0 444.8L371.2 439.9L371.3 436.8L371.5 439.4L371.6 438.7L371.7 447.4L371.9 439.3L372.0 448.8L372.2 445.8L372.3 447.4L372.4 459.1L372.6 450.9L372.7 457.8L372.9 465.6L373.0 468.8L373.1 468.7L373.3 458.1L373.4 443.2L373.6 428.5L373.7 443.8L373.8 442.0L374.0 448.5L374.1 450.2L374.3 448.9L374.4 437.0L374.5 441.7L374.7 443.5L374.8 442.8L375.0 476.0L375.1 468.1L375.2 450.5L375.4 462.4L375.5 454.2L375.7 454.8L375.8 455.8L375.9 448.0L376.1 457.3L376.2 463.8L376.4 464.5L376.5 457.4L376.6 449.4L376.8 454.7L376.9 450.7L377.1 452.8L377.2 459.3L377.3 451.8L377.5 462.4L377.6 469.6L377.8 471.4L377.9 465.9L378.0 464.3L378.2 466.4L378.3 470.6L378.5 464.5L378.6 466.6L378.7 464.8L378.9 460.5L379.0 464.6L379.2 456.9L379.3 434.8L379.4 419.0L379.6 445.1L379.7 448.2L379.9 452.3L380.0 470.0L380.1 459.7L380.3 470.6L380.4 468.7L380.6 465.9L380.7 471.2L380.8 463.8L381.0 470.5L381.1 468.2L381.3 472.0L381.4 472.9L381.5 475.0L381.7 464.9L381.8 455.0L382.0 472.0L382.1 464.0L382.2 465.4L382.4 457.5L382.5 460.5L382.7 444.2L382.8 451.6L382.9 430.0L383.1 452.5L383.2 441.6L383.4 461.2L383.5 464.9L383.6 449.3L383.8 446.1L383.9 460.2L384.1 464.4L384.2 449.1L384.3 450.7L384.5 448.2L384.6 442.3L384.8 451.4L384.9 480.3L385.0 491.0L385.2 449.0L385.3 449.9L385.5 433.1L385.6 445.0L385.7 445.9L385.9 457.4L386.0 451.6L386.2 438.2L386.3 458.6L386.4 455.6L386.6 451.2L386.7 464.5L386.9 466.1L387.0 455.6L387.1 447.8L387.3 441.4L387.4 456.5L387.6 434.0L387.7 445.3L387.8 448.3L388.0 452.2L388.1 445.6L388.3 438.8L388.4 443.2L388.5 454.9L388.7 466.9L388.8 471.4L389.0 451.8L389.1 472.0L389.2 473.8L389.4 471.0L389.5 506.0L389.7 481.3L389.8 487.8L389.9 479.6L390.1 487.7L390.2 480.4L390.4 477.1L390.5 475.8L390.6 487.6L390.8 476.5L390.9 497.1L391.1 495.0L391.2 463.9L391.3 469.8L391.5 459.2L391.6 455.1L391.8 470.1L391.9 479.9L392.0 461.9L392.2 473.0L392.3 449.7L392.5 454.7L392.6 463.4L392.7 445.3L392.9 453.1L393.0 450.5L393.2 446.6L393.3 458.7L393.4 447.4L393.6 450.1L393.7 447.4L393.9 458.7L394.0 440.0L394.1 488.0L394.3 478.7L394.4 459.2L394.6 457.6L394.7 452.4L394.8 454.3L395.0 447.8L395.1 466.8L395.3 450.5L395.4 460.4L395.5 463.2L395.7 456.9L395.8 453.1L396.0 453.3L396.1 467.6L396.2 486.2L396.4 471.3L396.5 480.1L396.7 473.4L396.8 471.2L396.9 467.4L397.1 471.1L397.2 472.9L397.4 465.6L397.5 456.7L397.6 448.0L397.8 444.0L397.9 444.7L398.1 446.4L398.2 450.3L398.3 483.1L398.5 491.0L398.6 480.7L398.8 479.1L398.9 484.9L399.0 490.5L399.2 480.2L399.3 481.5L399.5 482.5L399.6 483.0L399.7 469.8L399.9 453.8L400.0 467.2L400.2 465.9L400.3 458.7L400.4 447.6L400.6 453.9L400.7 449.3L400.9 452.3L401.0 445.8L401.1 467.2L401.3 465.2L401.4 455.9L401.6 441.5L401.7 466.2L401.8 469.5L402.0 489.3L402.1 495.3L402.3 481.9L402.4 474.7L402.5 476.8L402.7 474.7L402.8 497.5L403.0 513.5L403.1 463.1L403.2 459.7L403.4 491.9L403.5 506.0L403.7 493.0L403.8 464.7L403.9 460.9L404.1 454.0L404.2 454.2L404.4 464.6L404.5 460.4L404.6 451.0L404.8 460.8L404.9 478.5L405.1 474.6L405.2 455.9L405.3 477.1L405.5 467.9L405.6 479.5L405.8 483.5L405.9 480.4L406.0 498.0L406.2 493.9L406.3 487.4L406.5 488.9L406.6 476.0L406.7 486.7L406.9 490.5L407.0 484.7L407.2 493.9L407.3 476.8L407.4 479.2L407.6 486.6L407.7 464.9L407.9 479.1L408.0 452.0L408.1 470.1L408.3 477.3L408.4 482.0L408.6 498.5L408.7 503.1L408.8 496.9L409.0 504.5L409.1 495.5L409.3 476.9L409.4 464.8L409.5 467.9L409.7 467.3L409.8 469.9L410.0 467.4L410.1 466.4L410.2 479.1L410.4 473.1L410.5 489.9L410.7 485.6L410.8 474.0L410.9 466.4L411.1 472.3L411.2 463.9L411.4 466.7L411.5 446.0L411.6 476.2L411.8 474.3L411.9 491.2L412.1 492.9L412.2 491.3L412.3 498.0L412.5 487.9L412.6 474.9L412.8 472.6L412.9 469.5L413.0 472.1L413.2 480.4L413.3 491.3L413.5 474.1L413.6 482.6L413.7 478.9L413.9 480.0L414.0 480.9L414.2 490.7L414.3 482.1L414.4 503.0L414.6 490.4L414.7 490.0L414.9 478.0L415.0 475.3L415.1 467.1L415.3 482.3L415.4 480.4L415.6 481.3L415.7 473.9L415.8 476.6L416.0 466.6L416.1 463.2L416.3 464.4L416.4 469.7L416.5 463.5L416.7 465.7L416.8 456.2L417.0 455.0L417.1 464.7L417.2 459.9L417.4 457.3L417.5 467.2L417.7 463.6L417.8 459.6L417.9 469.6L418.1 471.2L418.2 469.8L418.4 463.9L418.5 470.1L418.6 482.0L418.8 481.8L418.9 474.3L419.1 478.5L419.2 474.9L419.3 476.0L419.5 477.6L419.6 476.5L419.8 482.1L419.9 483.8L420.0 489.5L420.2 485.7L420.3 474.8L420.5 471.3L420.6 473.7L420.7 482.8L420.9 478.3L421.0 479.5L421.2 468.9L421.3 470.4L421.4 477.5L421.6 468.9L421.7 468.7L421.9 457.6L422.0 453.5L422.1 457.6L422.3 463.5L422.4 470.3L422.6 463.9L422.7 464.8L422.8 470.9L423.0 475.5L423.1 483.1L423.3 482.6L423.4 470.1L423.5 478.8L423.7 485.2L423.8 478.6L424.0 482.7L424.1 483.6L424.2 482.0L424.4 488.2L424.5 480.1L424.7 473.5L424.8 483.6L424.9 492.5L425.1 477.1L425.2 468.4L425.4 458.2L425.5 458.9L425.6 464.4L425.8 470.4L425.9 471.7L426.1 472.3L426.2 477.2L426.3 477.0L426.5 474.0L426.6 472.3L426.8 469.1L426.9 476.1L427.0 473.1L427.2 478.2L427.3 474.3L427.5 475.0L427.6 468.1L427.7 471.0L427.9 477.3L428.0 479.9L428.2 477.2L428.3 478.1L428.4 475.9L428.6 477.2L428.7 468.2L428.9 450.2L429.0 438.5L429.1 458.3L429.3 461.7L429.4 465.9L429.6 470.8L429.7 470.2L429.8 454.2L430.0 480.0L430.1 475.3L430.3 461.6L430.4 464.7L430.5 465.8L430.7 475.6L430.8 474.2L431.0 475.3L431.1 478.8L431.2 478.5L431.4 469.5L431.5 471.6L431.7 472.8L431.8 468.6L431.9 466.5L432.1 466.1L432.2 476.1L432.4 474.9L432.5 460.1L432.6 453.4L432.8 453.6L432.9 455.0L433.1 451.5L433.2 451.9L433.3 457.4L433.5 453.8L433.6 465.9L433.8 468.7L433.9 475.0L434.0 465.3L434.2 472.1L434.3 473.6L434.5 479.2L434.6 473.2L434.7 468.8L434.9 472.8L435.0 460.2L435.2 458.8L435.3 463.2L435.4 460.7L435.6 466.7L435.7 463.6L435.9 467.9L436.0 449.0L436.1 483.0L436.3 462.5L436.4 459.0L436.6 455.5L436.7 454.2L436.8 453.2L437.0 451.9L437.1 451.5L437.3 465.9L437.4 465.5L437.5 459.3L437.7 468.8L437.8 477.5L438.0 479.1L438.1 466.0L438.2 460.9L438.4 471.3L438.5 469.9L438.7 457.8L438.8 457.8L438.9 456.6L439.1 450.2L439.2 451.8L439.4 459.2L439.5 454.9L439.6 450.5L439.8 454.8L439.9 447.7L440.1 452.1L440.2 460.2L440.3 466.6L440.5 467.1L440.6 472.2L440.8 471.6L440.9 477.2L441.0 485.0L441.2 473.7L441.3 469.6L441.5 467.9L441.6 453.2L441.7 446.6L441.9 449.7L442.0 459.2L442.2 462.9L442.3 464.0L442.4 456.9L442.6 458.0L442.7 449.7L442.9 441.0L443.0 440.0L443.1 443.8L443.3 449.3L443.4 450.0L443.6 447.4L443.7 451.6L443.8 467.9L444.0 469.6L444.1 455.3L444.3 449.3L444.4 448.0L444.5 447.7L444.7 461.7L444.8 463.5L445.0 474.0L445.1 458.9L445.2 458.9L445.4 455.2L445.5 452.1L445.7 447.6L445.8 427.2L445.9 420.5L446.1 429.9L446.2 447.6L446.4 452.1L446.5 457.6L446.6 426.0L446.8 439.9L446.9 454.2L447.1 461.9L447.2 461.0L447.3 468.5L447.5 461.7L447.6 458.9L447.8 466.9L447.9 471.7L448.0 477.5L448.2 468.9L448.3 463.3L448.5 457.4L448.6 448.6L448.7 455.0L448.9 458.8L449.0 444.0L449.2 454.6L449.3 461.8L449.4 462.2L449.6 468.6L449.7 465.2L449.9 461.8L450.0 469.9L450.1 470.7L450.3 471.8L450.4 467.5L450.6 469.6L450.7 470.1L450.8 468.2L451.0 453.6L451.1 468.2L451.3 468.8L451.4 462.1L451.5 453.2L451.7 457.6L451.8 461.6L452.0 463.0L452.1 470.7L452.2 463.4L452.4 463.2L452.5 466.9L452.7 462.6L452.8 462.8L452.9 476.0L453.1 472.2L453.2 471.3L453.4 474.1L453.5 463.9L453.6 461.2L453.8 454.8L453.9 450.7L454.1 440.0L454.2 443.0L454.3 447.5L454.5 451.9L454.6 459.8L454.8 463.8L454.9 464.5L455.0 467.1L455.2 457.3L455.3 455.6L455.5 467.2L455.6 470.8L455.7 465.0L455.9 468.6L456.0 466.0L456.2 478.1L456.3 475.3L456.4 478.1L456.6 483.0L456.7 472.7L456.9 471.4L457.0 474.6L457.1 452.2L457.3 470.2L457.4 463.4L457.6 489.5L457.7 458.9L457.8 454.3L458.0 458.0L458.1 456.7L458.3 449.7L458.4 453.8L458.5 461.6L458.7 448.7L458.8 450.6L459.0 446.0L459.1 461.5L459.2 461.6L459.4 463.2L459.5 464.0L459.7 460.7L459.8 460.6L459.9 450.2L460.1 462.8L460.2 468.9L460.4 463.7L460.5 470.0L460.6 461.6L460.8 467.6L460.9 454.0L461.1 449.3L461.2 460.8L461.3 460.0L461.5 456.2L461.6 465.1L461.8 469.9L461.9 465.2L462.0 470.0L462.2 465.3L462.3 456.3L462.5 462.6L462.6 463.6L462.7 471.7L462.9 460.8L463.0 457.2L463.2 453.5L463.3 447.0L463.4 434.0L463.6 441.5L463.7 439.0L463.9 435.6L464.0 437.3L464.1 464.5L464.3 459.7L464.4 461.5L464.6 460.9L464.7 466.1L464.8 458.8L465.0 456.0L465.1 447.8L465.3 442.2L465.4 458.3L465.5 448.6L465.7 448.9L465.8 452.5L466.0 437.1L466.1 440.4L466.2 446.4L466.4 433.7L466.5 429.7L466.7 434.2L466.8 427.6L466.9 408.5L467.1 417.9L467.2 440.8L467.4 452.0L467.5 437.3L467.6 414.0L467.8 445.9L467.9 463.9L468.1 485.0L468.2 461.4L468.3 462.9L468.5 451.6L468.6 458.5L468.8 460.0L468.9 458.2L469.0 454.4L469.2 460.2L469.3 468.5L469.5 445.2L469.6 448.2L469.7 461.0L469.9 448.6L470.0 436.0L470.2 440.2L470.3 439.6L470.4 437.6L470.6 444.3L470.7 447.1L470.9 449.2L471.0 456.5L471.1 447.8L471.3 449.4L471.4 446.2L471.6 457.5L471.7 453.1L471.8 448.5L472.0 474.5L472.1 449.3L472.3 453.7L472.4 441.8L472.5 446.6L472.7 448.4L472.8 450.2L473.0 442.0L473.1 451.8L473.2 444.2L473.4 447.6L473.5 443.3L473.7 443.5L473.8 437.4L473.9 441.0L474.1 445.0L474.2 444.2L474.4 445.1L474.5 446.8L474.6 447.0L474.8 434.3L474.9 433.7L475.1 432.0L475.2 437.7L475.3 438.9L475.5 444.6L475.6 442.1L475.8 450.3L475.9 449.0L476.0 443.8L476.2 446.1L476.3 441.3L476.5 447.9L476.6 459.3L476.7 459.5L476.9 461.5L477.0 466.0L477.2 459.2L477.3 442.2L477.4 447.4L477.6 460.7L477.7 455.2L477.9 467.5L478.0 447.9L478.1 437.6L478.3 458.4L478.4 459.4L478.6 455.5L478.7 435.4L478.8 424.2L479.0 441.2L479.1 432.1L479.3 429.9L479.4 422.0L479.5 437.4L479.7 426.0L479.8 431.1L480.0 438.3L480.1 447.9L480.2 456.9L480.4 425.4L480.5 408.5L480.7 429.3L480.8 447.1L480.9 435.1L481.1 419.4L481.2 433.9L481.4 461.3L481.5 488.0L481.6 447.1L481.8 444.6L481.9 412.5L482.1 441.4L482.2 439.4L482.3 441.9L482.5 441.2L482.6 437.2L482.8 428.7L482.9 415.8L483.0 380.0L483.2 397.3L483.3 398.0L483.5 398.8L483.6 386.0L483.7 400.8L483.9 436.1L484.0 458.4L484.2 460.7L484.3 435.8L484.4 392.0L484.6 444.0L484.7 451.0L484.9 461.5L485.0 458.5L485.1 466.6L485.3 441.3L485.4 440.3L485.6 389.0L485.7 429.9L485.8 443.8L486.0 462.0L486.1 450.5L486.3 440.9L486.4 425.9L486.5 429.1L486.7 415.8L486.8 419.7L487.0 415.3L487.1 417.8L487.2 416.0L487.4 424.5L487.5 424.3L487.7 446.6L487.8 445.4L487.9 424.0L488.1 447.7L488.2 440.4L488.4 433.6L488.5 449.9L488.6 443.1L488.8 448.4L488.9 451.9L489.1 441.2L489.2 433.0L489.3 430.3L489.5 443.1L489.6 436.6L489.8 429.6L489.9 434.0L490.0 431.3L490.2 439.3L490.3 455.5L490.5 476.0L490.6 458.0L490.7 445.1L490.9 426.9L491.0 428.3L491.2 437.1L491.3 432.9L491.4 442.9L491.6 443.9L491.7 444.7L491.9 437.5L492.0 439.8L492.1 444.2L492.3 456.1L492.4 461.2L492.6 463.6L492.7 447.7L492.8 433.1L493.0 420.5L493.1 438.0L493.3 444.7L493.4 447.5L493.5 440.0L493.7 445.5L493.8 445.5L494.0 459.5L494.1 441.0L494.2 446.7L494.4 436.8L494.5 444.8L494.7 439.1L494.8 433.2L494.9 438.9L495.1 453.9L495.2 445.2L495.4 450.0L495.5 448.7L495.6 448.3L495.8 440.2L495.9 441.3L496.1 428.6L496.2 433.9L496.3 431.5L496.5 436.8L496.6 434.3L496.8 432.4L496.9 425.8L497.0 424.0L497.2 429.7L497.3 434.8L497.5 433.7L497.6 437.6L497.7 427.8L497.9 434.6L498.0 432.6L498.2 441.4L498.3 439.7L498.4 438.6L498.6 444.6L498.7 446.2L498.9 442.9L499.0 445.0L499.1 440.1L499.3 442.0L499.4 437.0L499.6 438.1L499.7 445.2L499.8 442.4L500.0 449.0L500.1 447.1L500.3 430.5L500.4 431.5L500.5 413.0L500.7 420.0L500.8 430.2L501.0 435.8L501.1 424.3L501.2 429.6L501.4 428.3L501.5 423.7L501.7 427.9L501.8 427.8L501.9 424.1L502.1 423.1L502.2 422.5L502.4 426.3L502.5 419.5L502.6 415.1L502.8 417.8L502.9 421.3L503.1 426.4L503.2 423.8L503.3 421.1L503.5 422.0L503.6 425.9L503.8 430.2L503.9 426.8L504.0 420.3L504.2 415.3L504.3 428.1L504.5 421.6L504.6 428.3L504.7 409.3L504.9 415.3L505.0 396.5L505.2 416.4L505.3 424.3L505.4 421.8L505.6 419.2L505.7 412.2L505.9 408.0L506.0 434.0L506.1 410.1L506.3 422.1L506.4 419.1L506.6 413.6L506.7 405.4L506.8 403.5L507.0 393.8L507.1 395.0L507.3 394.7L507.4 394.0L507.5 400.1L507.7 412.8L507.8 399.1L508.0 389.3L508.1 393.2L508.2 390.8L508.4 393.1L508.5 396.7L508.7 398.1L508.8 400.2L508.9 381.5L509.1 397.9L509.2 397.9L509.4 399.0L509.5 387.9L509.6 395.6L509.8 396.0L509.9 408.0L510.1 410.7L510.2 416.7L510.3 414.6L510.5 414.1L510.6 415.7L510.8 406.7L510.9 413.6L511.0 415.9L511.2 404.4L511.3 411.4L511.5 409.7L511.6 405.3L511.7 405.4L511.9 418.4L512.0 423.5L512.2 417.2L512.3 408.5L512.4 401.1L512.6 396.7L512.7 384.3L512.9 384.9L513.0 387.9L513.1 383.8L513.3 390.2L513.4 391.7L513.6 381.5L513.7 380.6L513.8 374.9L514.0 372.5L514.1 388.1L514.3 375.4L514.4 380.4L514.5 393.0L514.7 391.9L514.8 387.8L515.0 372.8L515.1 372.3L515.2 368.0L515.4 385.3L515.5 399.7L515.7 410.0L515.8 414.1L515.9 416.0L516.1 407.8L516.2 381.1L516.4 353.0L516.5 377.8L516.6 386.5L516.8 372.5L516.9 370.3L517.1 343.5L517.2 370.2L517.3 375.4L517.5 394.3L517.6 349.0L517.8 382.9L517.9 400.6L518.0 392.9L518.2 369.9L518.3 358.0L518.5 370.9L518.6 402.5L518.7 386.0L518.9 373.8L519.0 354.5L519.2 405.6L519.3 384.3L519.4 392.5L519.6 395.0L519.7 391.5L519.9 384.9L520.0 366.0L520.1 397.5L520.3 402.3L520.4 407.9L520.6 431.0L520.7 418.7L520.8 404.6L521.0 392.3L521.1 390.4L521.3 394.6L521.4 397.2L521.5 382.2L521.7 382.8L521.8 384.7L522.0 376.0L522.1 385.1L522.2 398.5L522.4 395.0L522.5 394.6L522.7 395.8L522.8 396.0L522.9 392.7L523.1 394.5L523.2 396.8L523.4 402.7L523.5 404.2L523.6 399.8L523.8 387.6L523.9 390.1L524.1 395.2L524.2 391.2L524.3 394.1L524.5 388.3L524.6 381.8L524.8 386.6L524.9 388.7L525.0 380.0L525.2 418.0L525.3 395.2L525.5 393.9L525.6 394.1L525.7 382.6L525.9 391.1L526.0 394.1L526.2 387.0L526.3 395.0L526.4 401.1L526.6 407.3L526.7 397.8L526.9 395.2L527.0 413.0L527.1 412.6L527.3 409.4L527.4 413.0L527.6 413.8L527.7 412.2L527.8 409.8L528.0 384.0L528.1 397.3L528.3 414.4L528.4 415.7L528.5 407.2L528.7 406.1L528.8 401.0L529.0 404.0L529.1 404.0L529.2 417.5L529.4 413.8L529.5 411.1L529.7 411.2L529.8 416.5L529.9 425.0L530.1 407.6L530.2 394.3L530.4 400.2L530.5 398.7L530.6 395.7L530.8 414.4L530.9 400.8L531.1 391.6L531.2 396.8L531.3 400.6L531.5 405.2L531.6 409.7L531.8 412.0L531.9 395.7L532.0 386.0L532.2 403.7L532.3 394.7L532.5 402.7L532.6 401.1L532.7 413.2L532.9 405.3L533.0 403.3L533.2 388.6L533.3 387.7L533.4 397.8L533.6 408.3L533.7 412.9L533.9 412.3L534.0 402.9L534.1 394.4L534.3 401.1L534.4 405.8L534.6 404.4L534.7 398.6L534.8 409.8L535.0 428.0L535.1 417.5L535.3 403.7L535.4 400.8L535.5 407.2L535.7 400.9L535.8 401.8L536.0 390.0L536.1 404.1L536.2 414.1L536.4 419.8L536.5 413.1L536.7 409.7L536.8 396.5L536.9 390.2L537.1 399.9L537.2 402.6L537.4 405.3L537.5 416.9L537.6 413.5L537.8 419.2L537.9 423.0L538.1 415.1L538.2 431.0L538.3 432.1L538.5 430.1L538.6 427.5L538.8 434.4L538.9 430.0L539.0 429.7L539.2 399.4L539.3 419.0L539.5 382.0L539.6 414.5L539.7 407.9L539.9 394.2L540.0 393.1L540.2 397.4L540.3 396.2L540.4 411.4L540.6 427.0L540.7 423.2L540.9 428.5L541.0 449.0L541.1 431.3L541.3 426.6L541.4 436.7L541.6 425.9L541.7 426.5L541.8 430.1L542.0 438.0L542.1 432.6L542.3 409.5L542.4 414.8L542.5 414.0L542.7 409.5L542.8 406.4L543.0 396.0L543.1 411.6L543.2 409.0L543.4 404.4L543.5 412.4L543.7 412.9L543.8 422.2L543.9 412.6L544.1 417.1L544.2 430.9L544.4 431.4L544.5 416.3L544.6 410.8L544.8 413.4L544.9 412.1L545.1 436.0L545.2 434.3L545.3 434.6L545.5 420.2L545.6 420.2L545.8 420.0L545.9 411.4L546.0 399.5L546.2 428.8L546.3 418.4L546.5 413.6L546.6 412.4L546.7 425.9L546.9 427.2L547.0 429.6L547.2 411.9L547.3 405.0L547.4 417.6L547.6 413.5L547.7 417.1L547.9 411.1L548.0 406.6L548.1 403.1L548.3 410.5L548.4 414.7L548.6 452.0L548.7 428.4L548.8 412.2L549.0 414.7L549.1 430.1L549.3 427.7L549.4 425.3L549.5 424.7L549.7 422.6L549.8 410.3L550.0 402.0L550.1 410.5L550.2 433.1L550.4 442.1L550.5 438.1L550.7 443.5L550.8 436.8L550.9 440.1L551.1 440.0L551.2 442.5L551.4 441.6L551.5 436.4L551.6 417.7L551.8 428.9L551.9 434.6L552.1 435.1L552.2 430.8L552.3 437.6L552.5 438.5L552.6 443.5L552.8 442.2L552.9 429.4L553.0 443.3L553.2 425.3L553.3 442.0L553.5 396.0L553.6 450.5L553.7 428.2L553.9 432.7L554.0 426.6L554.2 430.9L554.3 428.1L554.4 429.9L554.6 423.4L554.7 422.2L554.9 414.6L555.0 418.1L555.1 417.1L555.3 404.7L555.4 408.7L555.6 420.3L555.7 425.2L555.8 432.1L556.0 440.0L556.1 432.4L556.3 431.0L556.4 420.1L556.5 409.6L556.7 416.5L556.8 425.0L557.0 409.1L557.1 418.5L557.2 437.8L557.4 430.4L557.5 431.5L557.7 434.7L557.8 429.7L557.9 431.5L558.1 429.6L558.2 415.5L558.4 420.1L558.5 405.5L558.6 417.7L558.8 428.7L558.9 430.8L559.1 438.5L559.2 434.1L559.3 427.5L559.5 430.5L559.6 436.4L559.8 436.6L559.9 436.4L560.0 421.1L560.2 424.3L560.3 433.4L560.5 435.7L560.6 425.7L560.7 430.2L560.9 422.4L561.0 419.6L561.2 429.6L561.3 421.7L561.4 405.0L561.6 409.7L561.7 407.2L561.9 416.2L562.0 412.6L562.1 435.1L562.3 430.0L562.4 425.7L562.6 413.3L562.7 416.6L562.8 429.8L563.0 432.6L563.1 436.0L563.3 427.2L563.4 425.8L563.5 433.5L563.7 438.3L563.8 429.8L564.0 433.9L564.1 432.1L564.2 431.1L564.4 461.9L564.5 474.0L564.7 446.5L564.8 425.2L564.9 424.2L565.1 438.0L565.2 430.0L565.4 415.2L565.5 423.1L565.6 425.8L565.8 426.9L565.9 429.0L566.1 414.0L566.2 427.2L566.3 430.4L566.5 419.4L566.6 415.7L566.8 422.8L566.9 429.3L567.0 423.2L567.2 428.6L567.3 418.0L567.5 417.7L567.6 419.8L567.7 425.7L567.9 446.7L568.0 452.0L568.2 447.0L568.3 430.7L568.4 425.5L568.6 440.3L568.7 431.3L568.9 420.4L569.0 412.0L569.1 440.3L569.3 447.9L569.4 433.4L569.6 429.3L569.7 433.2L569.8 442.3L570.0 422.0L570.1 428.7L570.3 419.7L570.4 420.4L570.5 420.3L570.7 429.4L570.8 424.8L571.0 459.0L571.1 440.6L571.2 434.3L571.4 429.5L571.5 438.5L571.7 441.3L571.8 431.7L571.9 436.6L572.1 433.9L572.2 429.0L572.4 432.2L572.5 426.0L572.6 420.4L572.8 411.6L572.9 411.6L573.1 407.5L573.2 412.8L573.3 424.0L573.5 444.9L573.6 447.4L573.8 444.0L573.9 449.2L574.0 444.4L574.2 449.4L574.3 444.5L574.5 444.8L574.6 445.3L574.7 440.0L574.9 447.2L575.0 452.0L575.2 451.0L575.3 450.6L575.4 444.4L575.6 447.7L575.7 437.5L575.9 429.4L576.0 406.5L576.1 426.1L576.3 426.6L576.4 441.6L576.6 440.4L576.7 452.0L576.8 443.4L577.0 430.6L577.1 436.3L577.3 429.4L577.4 433.0L577.5 428.7L577.7 428.4L577.8 427.2L578.0 447.1L578.1 439.1L578.2 433.6L578.4 432.1L578.5 468.0L578.7 451.3L578.8 453.7L578.9 443.0L579.1 453.0L579.2 446.7L579.4 444.1L579.5 440.1L579.6 437.9L579.8 431.7L579.9 425.4L580.1 424.0L580.2 440.1L580.3 437.9L580.5 440.6L580.6 447.7L580.8 432.0L580.9 431.9L581.0 439.6L581.2 448.2L581.3 453.3L581.5 447.0L581.6 443.2L581.7 439.4L581.9 437.1L582.0 435.5L582.2 441.9L582.3 433.6L582.4 438.2L582.6 438.9L582.7 449.2L582.9 446.3L583.0 456.0L583.1 452.9L583.3 445.0L583.4 449.1L583.6 452.4L583.7 448.2L583.8 449.5L584.0 449.0L584.1 448.5L584.3 445.4L584.4 446.9L584.5 443.2L584.7 441.7L584.8 436.7L585.0 426.0L585.1 441.1L585.2 439.7L585.4 449.3L585.5 451.6L585.7 436.4L585.8 438.3L585.9 446.1L586.1 443.1L586.2 448.4L586.4 441.3L586.5 443.7L586.6 448.0L586.8 453.8L586.9 448.7L587.1 442.4L587.2 439.7L587.3 441.4L587.5 431.4L587.6 436.7L587.8 424.4L587.9 422.0L588.0 434.7L588.2 436.6L588.3 457.6L588.5 466.5L588.6 441.8L588.7 453.8L588.9 429.0L589.0 445.8L589.2 431.5L589.3 419.5L589.4 446.5L589.6 442.8L589.7 433.9L589.9 436.8L590.0 405.0L590.1 431.3L590.3 445.9L590.4 450.1L590.6 439.1L590.7 433.1L590.8 444.1L591.0 467.0L591.1 450.6L591.3 469.2L591.4 450.7L591.5 463.8L591.7 448.1L591.8 460.1L592.0 457.2L592.1 475.2L592.2 476.6L592.4 472.2L592.5 484.5L592.7 427.6L592.8 452.4L592.9 410.0L593.1 435.8L593.2 441.7L593.4 438.0L593.5 445.3L593.6 450.2L593.8 444.4L593.9 452.7L594.1 465.3L594.2 455.3L594.3 435.1L594.5 437.7L594.6 441.8L594.8 450.1L594.9 446.0L595.0 468.0L595.2 461.2L595.3 446.4L595.5 441.6L595.6 457.4L595.7 441.2L595.9 434.4L596.0 402.0L596.2 422.2L596.3 450.9L596.4 396.5L596.6 448.9L596.7 442.9L596.9 429.8L597.0 438.3L597.1 404.0L597.3 444.6L597.4 454.0L597.6 462.0L597.7 458.5L597.8 439.5L598.0 428.5L598.1 421.9L598.3 440.3L598.4 454.5L598.5 440.6L598.7 451.7L598.8 444.9L599.0 437.1L599.1 440.2L599.2 453.9L599.4 430.0L599.5 423.8L599.7 424.2L599.8 435.3L599.9 418.0L600.1 470.0L600.2 459.9L600.4 432.5L600.5 426.9L600.6 436.1L600.8 423.5L600.9 434.7L601.1 437.7L601.2 453.0L601.3 440.9L601.5 443.6L601.6 449.2L601.8 438.9L601.9 438.3L602.0 433.2L602.2 426.0L602.3 423.3L602.5 433.9L602.6 445.3L602.7 471.7L602.9 471.1L603.0 494.0L603.2 480.4L603.3 480.9L603.4 476.2L603.6 467.4L603.7 453.9L603.9 449.5L604.0 448.8L604.1 452.6L604.3 457.0L604.4 452.5L604.6 464.7L604.7 448.3L604.8 439.9L605.0 444.4L605.1 451.2L605.3 436.5L605.4 449.0L605.5 453.7L605.7 443.6L605.8 440.9L606.0 416.5L606.1 468.0L606.2 457.1L606.4 441.2L606.5 455.9L606.7 462.1L606.8 453.7L606.9 457.1L607.1 459.1L607.2 440.2L607.4 446.1L607.5 452.3L607.6 444.5L607.8 433.7L607.9 444.2L608.1 447.2L608.2 451.5L608.3 446.2L608.5 453.4L608.6 445.9L608.8 450.9L608.9 447.4L609.0 444.4L609.2 443.3L609.3 445.0L609.5 448.1L609.6 439.9L609.7 441.9L609.9 459.5L610.0 475.5L610.2 463.5L610.3 454.4L610.4 447.8L610.6 441.5L610.7 443.9L610.9 447.4L611.0 461.2L611.1 464.7L611.3 465.7L611.4 451.4L611.6 446.0L611.7 442.9L611.8 431.9L612.0 421.5L612.1 430.6L612.3 448.9L612.4 459.4L612.5 426.8L612.7 443.0L612.8 436.2L613.0 466.0L613.1 450.8L613.2 451.6L613.4 453.8L613.5 450.4L613.7 455.7L613.8 445.8L613.9 448.4L614.1 440.4L614.2 428.3L614.4 435.9L614.5 431.9L614.6 430.7L614.8 439.8L614.9 421.8L615.1 436.2L615.2 438.5L615.3 450.4L615.5 448.5L615.6 450.9L615.8 451.7L615.9 449.0L616.0 447.5L616.2 433.7L616.3 461.2L616.5 472.5L616.6 463.7L616.7 438.8L616.9 428.5L617.0 443.8L617.2 447.3L617.3 434.7L617.4 412.5L617.6 421.6L617.7 430.8L617.9 425.3L618.0 427.2L618.1 438.3L618.3 438.1L618.4 437.6L618.6 433.7L618.7 432.2L618.8 424.9L619.0 438.4L619.1 432.2L619.3 431.2L619.4 429.5L619.5 429.1L619.7 437.4L619.8 427.0L620.0 425.4L620.1 431.1L620.2 430.3L620.4 428.7L620.5 436.4L620.7 436.6L620.8 449.0L620.9 462.0L621.1 441.2L621.2 435.7L621.4 441.7L621.5 433.3L621.6 440.1L621.8 430.1L621.9 432.9L622.1 428.0L622.2 432.7L622.3 437.1L622.5 436.8L622.6 437.9L622.8 447.2L622.9 451.2L623.0 438.4L623.2 445.6L623.3 433.6L623.5 436.3L623.6 431.1L623.7 429.2L623.9 427.9L624.0 432.3L624.2 431.3L624.3 434.2L624.4 427.8L624.6 433.4L624.7 435.9L624.9 442.9L625.0 446.4L625.1 432.1L625.3 443.0L625.4 460.1L625.6 465.0L625.7 450.6L625.8 446.4L626.0 434.3L626.1 439.4L626.3 437.4L626.4 442.0L626.5 442.1L626.7 452.9L626.8 436.7L627.0 447.4L627.1 451.8L627.2 445.5L627.4 454.6L627.5 447.8L627.7 442.7L627.8 428.3L627.9 423.0L628.1 426.0L628.2 443.9L628.4 449.8L628.5 440.9L628.6 441.7L628.8 444.0L628.9 447.1L629.1 448.8L629.2 448.3L629.3 448.5L629.5 451.4L629.6 453.7L629.8 446.7L629.9 446.2L630.0 439.9L630.2 442.2L630.3 440.1L630.5 442.8L630.6 444.8L630.7 450.9L630.9 452.1L631.0 458.0L631.2 454.7L631.3 444.5L631.4 443.0L631.6 445.9L631.7 442.0L631.9 450.2L632.0 441.6L632.1 441.8L632.3 441.3L632.4 440.5L632.6 438.4L632.7 438.4L632.8 438.1L633.0 442.1L633.1 445.5L633.3 446.5L633.4 443.2L633.5 442.3L633.7 436.0L633.8 435.7L634.0 435.0L634.1 447.7L634.2 443.5L634.4 444.3L634.5 437.2L634.7 440.1L634.8 444.1L634.9 440.2L635.1 442.7L635.2 441.0L635.4 438.9L635.5 445.1L635.6 440.1L635.8 443.1L635.9 443.7L636.1 445.5L636.2 444.9L636.3 441.9L636.5 438.0L636.6 441.2L636.8 439.4L636.9 438.3L637.0 439.8L637.2 441.2L637.3 450.7L637.5 453.7L637.6 451.1L637.7 454.2L637.9 456.4L638.0 462.0L638.2 460.0L638.3 452.4L638.4 443.4L638.6 443.7L638.7 444.2L638.9 440.4L639.0 437.0L639.1 443.0L639.3 444.0L639.4 448.8L639.6 455.1L639.7 450.2L639.8 445.1L640.0 442.4L640.1 444.9L640.3 445.3L640.4 448.8L640.5 442.1L640.7 444.7L640.8 437.9L641.0 448.5L641.1 451.7L641.2 453.2L641.4 444.7L641.5 446.0L641.7 449.8L641.8 443.1L641.9 440.5L642.1 445.8L642.2 455.8L642.4 457.6L642.5 453.6L642.6 459.3L642.8 456.9L642.9 457.8L643.1 464.0L643.2 457.9L643.3 453.6L643.5 424.5L643.6 434.2L643.8 451.2L643.9 451.6L644.0 456.8L644.2 462.6L644.3 470.3L644.5 453.7L644.6 450.3L644.7 453.4L644.9 434.7L645.0 438.8L645.2 433.5L645.3 437.0L645.4 451.4L645.6 445.8L645.7 443.3L645.9 439.5L646.0 448.7L646.1 451.1L646.3 439.7L646.4 447.3L646.6 452.1L646.7 447.8L646.8 458.6L647.0 430.0L647.1 448.3L647.3 445.9L647.4 477.9L647.5 491.5L647.7 470.9L647.8 454.6L648.0 441.8L648.1 444.7L648.2 443.7L648.4 445.2L648.5 467.9L648.7 473.4L648.8 458.6L648.9 453.8L649.1 439.9L649.2 438.9L649.4 449.1L649.5 443.6L649.6 449.5L649.8 436.2L649.9 452.6L650.1 417.5L650.2 443.1L650.3 442.5L650.5 444.3L650.6 445.9L650.8 453.5L650.9 456.2L651.0 462.0L651.2 445.9L651.3 434.7L651.5 428.5L651.6 444.0L651.7 442.1L651.9 441.0L652.0 438.7L652.2 438.3L652.3 438.5L652.4 433.4L652.6 437.4L652.7 441.6L652.9 454.4L653.0 458.7L653.1 440.6L653.3 432.6L653.4 443.7L653.6 455.2L653.7 446.7L653.8 441.0L654.0 432.0L654.1 432.7L654.3 442.6L654.4 457.4L654.5 462.0L654.7 445.3L654.8 439.5L655.0 435.1L655.1 434.6L655.2 438.4L655.4 437.8L655.5 436.9L655.7 444.8L655.8 450.8L655.9 455.3L656.1 443.0L656.2 445.5L656.4 443.2L656.5 441.2L656.6 433.9L656.8 439.4L656.9 449.4L657.1 453.5L657.2 448.8L657.3 455.2L657.5 452.0L657.6 442.0L657.8 446.9L657.9 464.3L658.0 461.8L658.2 459.6L658.3 448.7L658.5 458.4L658.6 460.4L658.7 458.5L658.9 437.2L659.0 431.5L659.2 470.0L659.3 459.0L659.4 461.4L659.6 463.5L659.7 470.9L659.9 455.0L660.0 458.9L660.1 452.1L660.3 461.2L660.4 458.9L660.6 456.3L660.7 451.8L660.8 458.0L661.0 445.6L661.1 451.4L661.3 459.3L661.4 446.0L661.5 449.7L661.7 435.7L661.8 447.1L662.0 428.0L662.1 436.6L662.2 445.4L662.4 479.0L662.5 471.6L662.7 467.3L662.8 474.4L662.9 469.4L663.1 474.7L663.2 471.6L663.4 467.3L663.5 496.5L663.6 475.6L663.8 453.5L663.9 436.4L664.1 430.0L664.2 434.6L664.3 452.8L664.5 449.4L664.6 451.8L664.8 465.9L664.9 441.2L665.0 418.0L665.2 439.3L665.3 419.2L665.5 411.5L665.6 417.1L665.7 437.3L665.9 453.7L666.0 441.1L666.2 416.0L666.3 433.6L666.4 442.0L666.6 453.9L666.7 460.0L666.9 468.2L667.0 470.0L667.1 460.8L667.3 445.2L667.4 466.2L667.6 464.8L667.7 456.2L667.8 459.2L668.0 460.3L668.1 465.1L668.3 437.3L668.4 436.5L668.5 423.0L668.7 450.1L668.8 445.6L669.0 449.2L669.1 449.2L669.2 452.7L669.4 456.1L669.5 449.3L669.7 443.0L669.8 447.2L669.9 445.4L670.1 440.7L670.2 451.0L670.4 454.2L670.5 458.3L670.6 447.8L670.8 441.4L670.9 439.2L671.1 443.6L671.2 445.9L671.3 460.3L671.5 460.4L671.6 451.0L671.8 440.8L671.9 457.3L672.0 440.0L672.2 486.0L672.3 473.1L672.5 461.4L672.6 452.2L672.7 452.1L672.9 455.0L673.0 448.5L673.2 463.6L673.3 457.7L673.4 457.1L673.6 458.1L673.7 460.6L673.9 457.9L674.0 449.7L674.1 461.8L674.3 449.3L674.4 445.3L674.6 454.5L674.7 454.9L674.8 462.2L675.0 478.0L675.1 454.4L675.3 466.1L675.4 471.5L675.5 469.6L675.7 463.6L675.8 473.9L676.0 469.2L676.1 464.6L676.2 452.7L676.4 457.3L676.5 466.6L676.7 464.3L676.8 464.9L676.9 463.3L677.1 454.5L677.2 454.1L677.4 457.5L677.5 456.1L677.6 463.6L677.8 467.2L677.9 450.7L678.1 451.7L678.2 455.5L678.3 467.9L678.5 442.5L678.6 498.0L678.8 483.1L678.9 480.0L679.0 462.8L679.2 465.4L679.3 479.9L679.5 482.8L679.6 481.0L679.7 472.1L679.9 464.9L680.0 462.4L680.2 465.3L680.3 472.3L680.4 480.5L680.6 475.6L680.7 463.5L680.9 474.8L681.0 482.0L681.1 466.9L681.3 475.3L681.4 461.3L681.6 464.9L681.7 458.2L681.8 453.6L682.0 466.4L682.1 459.7L682.3 466.2L682.4 480.7L682.5 482.2L682.7 480.7L682.8 483.8L683.0 478.8L683.1 480.2L683.2 469.9L683.4 474.0L683.5 471.5L683.7 478.6L683.8 465.5L683.9 447.5L684.1 458.9L684.2 478.2L684.4 478.5L684.5 487.5L684.6 473.9L684.8 483.2L684.9 487.6L685.1 487.6L685.2 486.8L685.3 471.3L685.5 470.9L685.6 463.7L685.8 473.5L685.9 464.9L686.0 461.4L686.2 469.3L686.3 470.1L686.5 476.7L686.6 472.6L686.7 478.6L686.9 475.0L687.0 477.1L687.2 474.5L687.3 472.5L687.4 473.1L687.6 472.8L687.7 466.0L687.9 479.6L688.0 458.0L688.1 494.0L688.3 481.8L688.4 483.7L688.6 478.7L688.7 484.2L688.8 492.3L689.0 484.5L689.1 486.3L689.3 474.9L689.4 481.2L689.5 474.6L689.7 475.4L689.8 479.0L690.0 466.6L690.1 466.9L690.2 474.5L690.4 465.5L690.5 477.0L690.7 480.8L690.8 491.8L690.9 507.0L691.1 487.2L691.2 492.8L691.4 490.8L691.5 500.0L691.6 492.8L691.8 477.4L691.9 470.2L692.1 456.0L692.2 458.6L692.3 463.1L692.5 468.7L692.6 471.6L692.8 474.0L692.9 473.3L693.0 470.8L693.2 470.2L693.3 460.4L693.5 462.6L693.6 461.0L693.7 461.8L693.9 469.7L694.0 492.0L694.2 483.2L694.3 458.1L694.4 460.6L694.6 455.1L694.7 457.5L694.9 457.4L695.0 456.1L695.1 459.3L695.3 459.1L695.4 462.2L695.6 463.6L695.7 458.2L695.8 458.1L696.0 452.0L696.1 455.1L696.3 472.6L696.4 481.1L696.5 490.5L696.7 464.1L696.8 471.6L697.0 470.6L697.1 461.2L697.2 453.8L697.4 455.8L697.5 455.8L697.7 455.4L697.8 449.2L697.9 447.1L698.1 450.1L698.2 449.8L698.4 448.0L698.5 446.8L698.6 442.9L698.8 451.2L698.9 460.3L699.1 468.0L699.2 458.3L699.3 448.9L699.5 446.9L699.6 448.9L699.8 446.1L699.9 442.0L700.0 439.1L700.2 433.1L700.3 439.6L700.5 432.0L700.6 453.0L700.7 445.6L700.9 449.2L701.0 443.8L701.2 440.5L701.3 435.5L701.4 441.0L701.6 433.7L701.7 430.7L701.9 428.8L702.0 429.6L702.1 435.1L702.3 439.0L702.4 433.7L702.6 441.8L702.7 435.5L702.8 437.3L703.0 420.0L703.1 446.0L703.3 437.0L703.4 441.1L703.5 433.9L703.7 436.3L703.8 430.1L704.0 428.6L704.1 428.6L704.2 434.8L704.4 430.9L704.5 435.4L704.7 430.9L704.8 424.1L704.9 415.0L705.1 422.9L705.2 429.9L705.4 425.0L705.5 411.0L705.6 425.6L705.8 428.2L705.9 434.2L706.1 440.0L706.2 414.0L706.3 423.5L706.5 430.0L706.6 439.8L706.8 443.0L706.9 438.7L707.0 435.4L707.2 436.9L707.3 428.8L707.5 424.0L707.6 430.5L707.7 439.4L707.9 449.3L708.0 452.0L708.2 450.7L708.3 444.2L708.4 435.4L708.6 440.3L708.7 443.1L708.9 443.1L709.0 447.3L709.1 447.8L709.3 446.2L709.4 442.0L709.6 433.5L709.7 436.7L709.8 444.5L710.0 451.2L710.1 445.1L710.3 439.1L710.4 438.2L710.5 435.9L710.7 440.0L710.8 437.5L711.0 435.6L711.1 443.0L711.2 445.5L711.4 452.8L711.5 466.5L711.7 446.7L711.8 439.2L711.9 428.0L712.1 448.1L712.2 435.4L712.4 446.6L712.5 456.1L712.6 447.1L712.8 452.2L712.9 440.4L713.1 438.4L713.2 442.8L713.3 449.9L713.5 447.8L713.6 443.0L713.8 430.0L713.9 442.1L714.0 452.0L714.2 446.7L714.3 443.2L714.5 432.6L714.6 423.9L714.7 423.0L714.9 421.3L715.0 413.5L715.2 430.6L715.3 438.1L715.4 441.8L715.6 442.6L715.7 444.7L715.9 445.8L716.0 448.0L716.1 444.3L716.3 441.1L716.4 441.8L716.6 440.1L716.7 429.5L716.8 436.5L717.0 420.0L717.1 434.9L717.3 438.4L717.4 437.3L717.5 443.9L717.7 434.7L717.8 440.4L718.0 430.0L718.1 425.9L718.2 430.3L718.4 438.2L718.5 448.9L718.7 448.9L718.8 441.1L718.9 424.5L719.1 456.0L719.2 443.7L719.4 442.5L719.5 437.9L719.6 433.1L719.8 438.9L719.9 436.4"/></g>
<path class="tk" d="M153.50 278.18v-5.00M153.50 60.00v5.00M290.50 278.18v-5.00M290.50 60.00v5.00M428.50 278.18v-5.00M428.50 60.00v5.00M566.50 278.18v-5.00M566.50 60.00v5.00M704.50 278.18v-5.00M704.50 60.00v5.00M100.00 96.50h5.00M720.00 96.50h-5.00M100.00 132.50h5.00M720.00 132.50h-5.00M100.00 169.50h5.00M720.00 169.50h-5.00M100.00 205.50h5.00M720.00 205.50h-5.00M100.00 241.50h5.00M720.00 241.50h-5.00"/>
<rect class="ax" x="100.00" y="60.00" width="620.00" height="218.18"/>
<text class="t" text-anchor="end" x="96.00" y="64.10">0.0</text>
<text class="t" text-anchor="end" x="96.00" y="100.46">-0.5</text>
<text class="t" text-anchor="end" x="96.00" y="136.83">-1.0</text>
<text class="t" text-anchor="end" x="96.00" y="173.19">-1.5</text>
<text class="t" text-anchor="end" x="96.00" y="209.55">-2.0</text>
<text class="t" text-anchor="end" x="96.00" y="245.92">-2.5</text>
<text class="t" text-anchor="end" x="96.00" y="282.28">-3.0</text>
<text class="t x1" text-anchor="middle" x="154.30" y="293.88">15:00</text>
<text class="t x2" text-anchor="middle" x="153.90" y="307.68">Apr 29</text>
<text class="t x1" text-anchor="middle" x="291.87" y="293.88">23:00</text>
<text class="t x2" text-anchor="middle" x="291.40" y="307.68">Apr 29</text>
<text class="t x1" text-anchor="middle" x="429.44" y="293.88">07:00</text>
<text class="t x2" text-anchor="middle" x="428.90" y="307.68">Apr 30</text>
<text class="t x1" text-anchor="middle" x="567.01" y="293.88">15:00</text>
<text class="t x2" text-anchor="middle" x="566.40" y="307.68">Apr 30</text>
<text class="t x1" text-anchor="middle" x="704.58" y="293.88">23:00</text>
<text class="t x2" text-anchor="middle" x="703.90" y="307.68">Apr 30</text>
<path class="tk" d="M153.50 540.00v-5.00M153.50 321.82v5.00M290.50 540.00v-5.00M290.50 321.82v5.00M428.50 540.00v-5.00M428.50 321.82v5.00M566.50 540.00v-5.00M566.50 321.82v5.00M704.50 540.00v-5.00M704.50 321.82v5.00M100.00 352.50h5.00M720.00 352.50h-5.00M100.00 384.50h5.00M720.00 384.50h-5.00M100.00 415.50h5.00M720.00 415.50h-5.00M100.00 446.50h5.00M720.00 446.50h-5.00M100.00 477.50h5.00M720.00 477.50h-5.00M100.00 508.50h5.00M720.00 508.50h-5.00"/>
<rect class="ax" x="100.00" y="321.82" width="620.00" height="218.18"/>
<text class="t" text-anchor="end" x="95.80" y="325.92">4</text>
<text class="t" text-anchor="end" x="95.80" y="357.09">3</text>
<text class="t" text-anchor="end" x="95.80" y="388.26">2</text>
<text class="t" text-anchor="end" x="95.80" y="419.43">1</text>
<text class="t" text-anchor="end" x="95.80" y="450.59">0</text>
<text class="t" text-anchor="end" x="95.80" y="481.76">-1</text>
<text class="t" text-anchor="end" x="95.80" y="512.93">-2</text>
<text class="t" text-anchor="end" x="95.80" y="544.10">-3</text>
<text class="t x1" text-anchor="middle" x="154.30" y="555.70">15:00</text>
<text class="t x2" text-anchor="middle" x="153.90" y="569.50">Apr 29</text>
<text class="t x1" text-anchor="middle" x="291.87" y="555.70">23:00</text>
<text class="t x2" text-anchor="middle" x="291.40" y="569.50">Apr 29</text>
<text class="t x1" text-anchor="middle" x="429.44" y="555.70">07:00</text>
<text class="t x2" text-anchor="middle" x="428.90" y="569.50">Apr 30</text>
<text class="t x1" text-anchor="middle" x="567.01" y="555.70">15:00</text>
<text class="t x2" text-anchor="middle" x="566.40" y="569.50">Apr 30</text>
<text class="t x1" text-anchor="middle" x="704.58" y="555.70">23:00</text>
<text class="t x2" text-anchor="middle" x="703.90" y="569.50">Apr 30</text>
<text class="ti" text-anchor="middle" x="410.3" y="50">APOLLO GPS Clock Properties</text>
<text class="t" x="100.3" y="53.7">-4.43e3</text>
<text class="t" x="99.6" y="316.0">x1e-8</text>
<text class="t" text-anchor="middle" transform="translate(57.4 167.2) rotate(-90)">DAC</text>
<text class="t" text-anchor="middle" transform="translate(72.6 430) rotate(-90)">Phase (s)</text>
<text class="t" text-anchor="middle" x="410" y="591.6">Date (GMT)</text>
</svg></body></html>
